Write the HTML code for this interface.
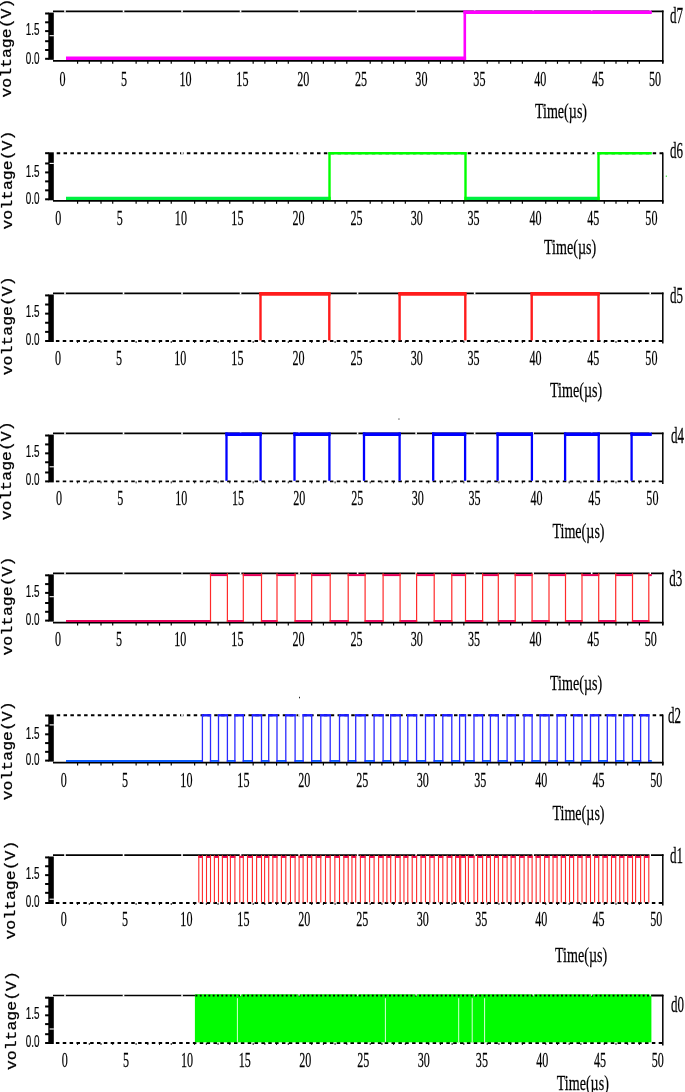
<!DOCTYPE html>
<html lang="en"><head><meta charset="utf-8"><title>Counter output waveforms d7 to d0</title>
<style>
html,body{margin:0;padding:0;background:#fff;}
body{width:685px;height:1092px;overflow:hidden;}
svg{display:block;}
text.s{font-family:"Liberation Serif","DejaVu Serif",serif;fill:#000;stroke:#000;stroke-width:0.25px;}
text.a{font-family:"Liberation Sans","DejaVu Sans",sans-serif;fill:#000;stroke:#000;stroke-width:0.2px;}
text.m{font-family:"Liberation Mono","DejaVu Sans Mono",monospace;fill:#000;stroke:#000;stroke-width:0.25px;}
</style></head>
<body>
<svg width="685" height="1092" viewBox="0 0 685 1092">
<rect width="685" height="1092" fill="#fff"/>
<line x1="53.00" y1="11.30" x2="663.50" y2="11.30" stroke="#000" stroke-width="1.7" />
<rect x="64.20" y="10.10" width="1.60" height="2.40" fill="#fff"/>
<rect x="122.72" y="10.10" width="1.60" height="2.40" fill="#fff"/>
<rect x="181.24" y="10.10" width="1.60" height="2.40" fill="#fff"/>
<rect x="239.76" y="10.10" width="1.60" height="2.40" fill="#fff"/>
<rect x="298.28" y="10.10" width="1.60" height="2.40" fill="#fff"/>
<rect x="356.80" y="10.10" width="1.60" height="2.40" fill="#fff"/>
<rect x="415.32" y="10.10" width="1.60" height="2.40" fill="#fff"/>
<rect x="473.84" y="10.10" width="1.60" height="2.40" fill="#fff"/>
<rect x="532.36" y="10.10" width="1.60" height="2.40" fill="#fff"/>
<rect x="590.88" y="10.10" width="1.60" height="2.40" fill="#fff"/>
<rect x="649.40" y="10.10" width="1.60" height="2.40" fill="#fff"/>
<line x1="53.00" y1="60.90" x2="663.50" y2="60.90" stroke="#000" stroke-width="1.7" />
<line x1="77.60" y1="60.90" x2="77.60" y2="63.80" stroke="#000" stroke-width="1.15" />
<line x1="89.31" y1="60.90" x2="89.31" y2="63.80" stroke="#000" stroke-width="1.15" />
<line x1="101.01" y1="60.90" x2="101.01" y2="63.80" stroke="#000" stroke-width="1.15" />
<line x1="112.72" y1="60.90" x2="112.72" y2="63.80" stroke="#000" stroke-width="1.15" />
<line x1="136.12" y1="60.90" x2="136.12" y2="63.80" stroke="#000" stroke-width="1.15" />
<line x1="147.83" y1="60.90" x2="147.83" y2="63.80" stroke="#000" stroke-width="1.15" />
<line x1="159.53" y1="60.90" x2="159.53" y2="63.80" stroke="#000" stroke-width="1.15" />
<line x1="171.24" y1="60.90" x2="171.24" y2="63.80" stroke="#000" stroke-width="1.15" />
<line x1="194.64" y1="60.90" x2="194.64" y2="63.80" stroke="#000" stroke-width="1.15" />
<line x1="206.35" y1="60.90" x2="206.35" y2="63.80" stroke="#000" stroke-width="1.15" />
<line x1="218.05" y1="60.90" x2="218.05" y2="63.80" stroke="#000" stroke-width="1.15" />
<line x1="229.76" y1="60.90" x2="229.76" y2="63.80" stroke="#000" stroke-width="1.15" />
<line x1="253.16" y1="60.90" x2="253.16" y2="63.80" stroke="#000" stroke-width="1.15" />
<line x1="264.87" y1="60.90" x2="264.87" y2="63.80" stroke="#000" stroke-width="1.15" />
<line x1="276.57" y1="60.90" x2="276.57" y2="63.80" stroke="#000" stroke-width="1.15" />
<line x1="288.28" y1="60.90" x2="288.28" y2="63.80" stroke="#000" stroke-width="1.15" />
<line x1="311.68" y1="60.90" x2="311.68" y2="63.80" stroke="#000" stroke-width="1.15" />
<line x1="323.39" y1="60.90" x2="323.39" y2="63.80" stroke="#000" stroke-width="1.15" />
<line x1="335.09" y1="60.90" x2="335.09" y2="63.80" stroke="#000" stroke-width="1.15" />
<line x1="346.80" y1="60.90" x2="346.80" y2="63.80" stroke="#000" stroke-width="1.15" />
<line x1="370.20" y1="60.90" x2="370.20" y2="63.80" stroke="#000" stroke-width="1.15" />
<line x1="381.91" y1="60.90" x2="381.91" y2="63.80" stroke="#000" stroke-width="1.15" />
<line x1="393.61" y1="60.90" x2="393.61" y2="63.80" stroke="#000" stroke-width="1.15" />
<line x1="405.32" y1="60.90" x2="405.32" y2="63.80" stroke="#000" stroke-width="1.15" />
<line x1="428.72" y1="60.90" x2="428.72" y2="63.80" stroke="#000" stroke-width="1.15" />
<line x1="440.43" y1="60.90" x2="440.43" y2="63.80" stroke="#000" stroke-width="1.15" />
<line x1="452.13" y1="60.90" x2="452.13" y2="63.80" stroke="#000" stroke-width="1.15" />
<line x1="463.84" y1="60.90" x2="463.84" y2="63.80" stroke="#000" stroke-width="1.15" />
<line x1="487.24" y1="60.90" x2="487.24" y2="63.80" stroke="#000" stroke-width="1.15" />
<line x1="498.95" y1="60.90" x2="498.95" y2="63.80" stroke="#000" stroke-width="1.15" />
<line x1="510.65" y1="60.90" x2="510.65" y2="63.80" stroke="#000" stroke-width="1.15" />
<line x1="522.36" y1="60.90" x2="522.36" y2="63.80" stroke="#000" stroke-width="1.15" />
<line x1="545.76" y1="60.90" x2="545.76" y2="63.80" stroke="#000" stroke-width="1.15" />
<line x1="557.47" y1="60.90" x2="557.47" y2="63.80" stroke="#000" stroke-width="1.15" />
<line x1="569.17" y1="60.90" x2="569.17" y2="63.80" stroke="#000" stroke-width="1.15" />
<line x1="580.88" y1="60.90" x2="580.88" y2="63.80" stroke="#000" stroke-width="1.15" />
<line x1="604.28" y1="60.90" x2="604.28" y2="63.80" stroke="#000" stroke-width="1.15" />
<line x1="615.99" y1="60.90" x2="615.99" y2="63.80" stroke="#000" stroke-width="1.15" />
<line x1="627.69" y1="60.90" x2="627.69" y2="63.80" stroke="#000" stroke-width="1.15" />
<line x1="639.40" y1="60.90" x2="639.40" y2="63.80" stroke="#000" stroke-width="1.15" />
<line x1="662.80" y1="60.90" x2="662.80" y2="63.80" stroke="#000" stroke-width="1.15" />
<line x1="662.80" y1="10.50" x2="662.80" y2="63.50" stroke="#000" stroke-width="1.5" />
<rect x="48.30" y="12.60" width="5.50" height="47.20" fill="#000"/>
<line x1="45.10" y1="13.50" x2="49.00" y2="13.50" stroke="#000" stroke-width="2.0" />
<line x1="45.10" y1="22.30" x2="49.00" y2="22.30" stroke="#000" stroke-width="2.0" />
<line x1="45.10" y1="31.10" x2="49.00" y2="31.10" stroke="#000" stroke-width="2.0" />
<line x1="45.10" y1="41.20" x2="49.00" y2="41.20" stroke="#000" stroke-width="2.0" />
<line x1="45.10" y1="50.00" x2="49.00" y2="50.00" stroke="#000" stroke-width="2.0" />
<line x1="45.10" y1="58.80" x2="49.00" y2="58.80" stroke="#000" stroke-width="2.0" />
<rect x="49.60" y="35.15" width="4.30" height="1.10" fill="#fff"/>
<text class="a" transform="translate(39.50,35.30) scale(0.59,1)" font-size="16.8" text-anchor="end">1.5</text>
<text class="a" transform="translate(39.50,63.60) scale(0.59,1)" font-size="16.8" text-anchor="end">0.0</text>
<text class="s" transform="translate(62.60,86.30) scale(0.55,1)" font-size="22.0" text-anchor="middle">0</text>
<text class="s" transform="translate(124.00,86.30) scale(0.55,1)" font-size="22.0" text-anchor="middle">5</text>
<text class="s" transform="translate(185.50,86.30) scale(0.55,1)" font-size="22.0" text-anchor="middle">10</text>
<text class="s" transform="translate(242.40,86.30) scale(0.55,1)" font-size="22.0" text-anchor="middle">15</text>
<text class="s" transform="translate(303.20,86.30) scale(0.55,1)" font-size="22.0" text-anchor="middle">20</text>
<text class="s" transform="translate(361.00,86.30) scale(0.55,1)" font-size="22.0" text-anchor="middle">25</text>
<text class="s" transform="translate(421.40,86.30) scale(0.55,1)" font-size="22.0" text-anchor="middle">30</text>
<text class="s" transform="translate(479.40,86.30) scale(0.55,1)" font-size="22.0" text-anchor="middle">35</text>
<text class="s" transform="translate(540.20,86.30) scale(0.55,1)" font-size="22.0" text-anchor="middle">40</text>
<text class="s" transform="translate(598.00,86.30) scale(0.55,1)" font-size="22.0" text-anchor="middle">45</text>
<text class="s" transform="translate(655.00,86.30) scale(0.55,1)" font-size="22.0" text-anchor="middle">50</text>
<text class="s" transform="translate(534.90,118.40) scale(0.64,1)" font-size="22.0" text-anchor="start">Time(µs)</text>
<text class="s" transform="translate(670.00,23.00) scale(0.56,1)" font-size="23.2" text-anchor="start">d7</text>
<text class="m" transform="translate(11.00,97.60) rotate(-90) scale(1.146,1)" font-size="14.4">voltage(V)</text>
<line x1="66.00" y1="58.30" x2="466.10" y2="58.30" stroke="#ff00ff" stroke-width="3.6" />
<line x1="463.50" y1="12.20" x2="651.80" y2="12.20" stroke="#ff00ff" stroke-width="3.6" />
<line x1="464.80" y1="10.40" x2="464.80" y2="60.10" stroke="#ff00ff" stroke-width="2.6" />
<line x1="56.70" y1="153.20" x2="663.50" y2="153.20" stroke="#000" stroke-width="1.9" stroke-dasharray="3.5 3.35"/>
<rect x="122.72" y="152.00" width="1.60" height="2.40" fill="#fff"/>
<rect x="181.24" y="152.00" width="1.60" height="2.40" fill="#fff"/>
<rect x="239.76" y="152.00" width="1.60" height="2.40" fill="#fff"/>
<rect x="298.28" y="152.00" width="1.60" height="2.40" fill="#fff"/>
<rect x="356.80" y="152.00" width="1.60" height="2.40" fill="#fff"/>
<rect x="415.32" y="152.00" width="1.60" height="2.40" fill="#fff"/>
<rect x="473.84" y="152.00" width="1.60" height="2.40" fill="#fff"/>
<rect x="532.36" y="152.00" width="1.60" height="2.40" fill="#fff"/>
<rect x="590.88" y="152.00" width="1.60" height="2.40" fill="#fff"/>
<rect x="649.40" y="152.00" width="1.60" height="2.40" fill="#fff"/>
<line x1="53.00" y1="200.90" x2="663.50" y2="200.90" stroke="#000" stroke-width="1.7" />
<line x1="77.60" y1="200.90" x2="77.60" y2="203.80" stroke="#000" stroke-width="1.15" />
<line x1="89.31" y1="200.90" x2="89.31" y2="203.80" stroke="#000" stroke-width="1.15" />
<line x1="101.01" y1="200.90" x2="101.01" y2="203.80" stroke="#000" stroke-width="1.15" />
<line x1="112.72" y1="200.90" x2="112.72" y2="203.80" stroke="#000" stroke-width="1.15" />
<line x1="136.12" y1="200.90" x2="136.12" y2="203.80" stroke="#000" stroke-width="1.15" />
<line x1="147.83" y1="200.90" x2="147.83" y2="203.80" stroke="#000" stroke-width="1.15" />
<line x1="159.53" y1="200.90" x2="159.53" y2="203.80" stroke="#000" stroke-width="1.15" />
<line x1="171.24" y1="200.90" x2="171.24" y2="203.80" stroke="#000" stroke-width="1.15" />
<line x1="194.64" y1="200.90" x2="194.64" y2="203.80" stroke="#000" stroke-width="1.15" />
<line x1="206.35" y1="200.90" x2="206.35" y2="203.80" stroke="#000" stroke-width="1.15" />
<line x1="218.05" y1="200.90" x2="218.05" y2="203.80" stroke="#000" stroke-width="1.15" />
<line x1="229.76" y1="200.90" x2="229.76" y2="203.80" stroke="#000" stroke-width="1.15" />
<line x1="253.16" y1="200.90" x2="253.16" y2="203.80" stroke="#000" stroke-width="1.15" />
<line x1="264.87" y1="200.90" x2="264.87" y2="203.80" stroke="#000" stroke-width="1.15" />
<line x1="276.57" y1="200.90" x2="276.57" y2="203.80" stroke="#000" stroke-width="1.15" />
<line x1="288.28" y1="200.90" x2="288.28" y2="203.80" stroke="#000" stroke-width="1.15" />
<line x1="311.68" y1="200.90" x2="311.68" y2="203.80" stroke="#000" stroke-width="1.15" />
<line x1="323.39" y1="200.90" x2="323.39" y2="203.80" stroke="#000" stroke-width="1.15" />
<line x1="335.09" y1="200.90" x2="335.09" y2="203.80" stroke="#000" stroke-width="1.15" />
<line x1="346.80" y1="200.90" x2="346.80" y2="203.80" stroke="#000" stroke-width="1.15" />
<line x1="370.20" y1="200.90" x2="370.20" y2="203.80" stroke="#000" stroke-width="1.15" />
<line x1="381.91" y1="200.90" x2="381.91" y2="203.80" stroke="#000" stroke-width="1.15" />
<line x1="393.61" y1="200.90" x2="393.61" y2="203.80" stroke="#000" stroke-width="1.15" />
<line x1="405.32" y1="200.90" x2="405.32" y2="203.80" stroke="#000" stroke-width="1.15" />
<line x1="428.72" y1="200.90" x2="428.72" y2="203.80" stroke="#000" stroke-width="1.15" />
<line x1="440.43" y1="200.90" x2="440.43" y2="203.80" stroke="#000" stroke-width="1.15" />
<line x1="452.13" y1="200.90" x2="452.13" y2="203.80" stroke="#000" stroke-width="1.15" />
<line x1="463.84" y1="200.90" x2="463.84" y2="203.80" stroke="#000" stroke-width="1.15" />
<line x1="487.24" y1="200.90" x2="487.24" y2="203.80" stroke="#000" stroke-width="1.15" />
<line x1="498.95" y1="200.90" x2="498.95" y2="203.80" stroke="#000" stroke-width="1.15" />
<line x1="510.65" y1="200.90" x2="510.65" y2="203.80" stroke="#000" stroke-width="1.15" />
<line x1="522.36" y1="200.90" x2="522.36" y2="203.80" stroke="#000" stroke-width="1.15" />
<line x1="545.76" y1="200.90" x2="545.76" y2="203.80" stroke="#000" stroke-width="1.15" />
<line x1="557.47" y1="200.90" x2="557.47" y2="203.80" stroke="#000" stroke-width="1.15" />
<line x1="569.17" y1="200.90" x2="569.17" y2="203.80" stroke="#000" stroke-width="1.15" />
<line x1="580.88" y1="200.90" x2="580.88" y2="203.80" stroke="#000" stroke-width="1.15" />
<line x1="604.28" y1="200.90" x2="604.28" y2="203.80" stroke="#000" stroke-width="1.15" />
<line x1="615.99" y1="200.90" x2="615.99" y2="203.80" stroke="#000" stroke-width="1.15" />
<line x1="627.69" y1="200.90" x2="627.69" y2="203.80" stroke="#000" stroke-width="1.15" />
<line x1="639.40" y1="200.90" x2="639.40" y2="203.80" stroke="#000" stroke-width="1.15" />
<line x1="662.80" y1="200.90" x2="662.80" y2="203.80" stroke="#000" stroke-width="1.15" />
<line x1="662.80" y1="152.40" x2="662.80" y2="203.50" stroke="#000" stroke-width="1.5" />
<rect x="48.30" y="152.30" width="5.50" height="48.00" fill="#000"/>
<line x1="45.10" y1="153.20" x2="49.00" y2="153.20" stroke="#000" stroke-width="2.0" />
<line x1="45.10" y1="163.46" x2="49.00" y2="163.46" stroke="#000" stroke-width="2.0" />
<line x1="45.10" y1="172.42" x2="49.00" y2="172.42" stroke="#000" stroke-width="2.0" />
<line x1="45.10" y1="181.38" x2="49.00" y2="181.38" stroke="#000" stroke-width="2.0" />
<line x1="45.10" y1="190.34" x2="49.00" y2="190.34" stroke="#000" stroke-width="2.0" />
<line x1="45.10" y1="199.30" x2="49.00" y2="199.30" stroke="#000" stroke-width="2.0" />
<rect x="49.60" y="162.85" width="4.30" height="1.10" fill="#fff"/>
<text class="a" transform="translate(39.50,177.00) scale(0.59,1)" font-size="16.8" text-anchor="end">1.5</text>
<text class="a" transform="translate(39.50,203.80) scale(0.59,1)" font-size="16.8" text-anchor="end">0.0</text>
<text class="s" transform="translate(58.30,225.00) scale(0.55,1)" font-size="22.0" text-anchor="middle">0</text>
<text class="s" transform="translate(119.70,225.00) scale(0.55,1)" font-size="22.0" text-anchor="middle">5</text>
<text class="s" transform="translate(180.90,225.00) scale(0.55,1)" font-size="22.0" text-anchor="middle">10</text>
<text class="s" transform="translate(237.40,225.00) scale(0.55,1)" font-size="22.0" text-anchor="middle">15</text>
<text class="s" transform="translate(298.50,225.00) scale(0.55,1)" font-size="22.0" text-anchor="middle">20</text>
<text class="s" transform="translate(356.60,225.00) scale(0.55,1)" font-size="22.0" text-anchor="middle">25</text>
<text class="s" transform="translate(416.70,225.00) scale(0.55,1)" font-size="22.0" text-anchor="middle">30</text>
<text class="s" transform="translate(473.50,225.00) scale(0.55,1)" font-size="22.0" text-anchor="middle">35</text>
<text class="s" transform="translate(535.60,225.00) scale(0.55,1)" font-size="22.0" text-anchor="middle">40</text>
<text class="s" transform="translate(593.30,225.00) scale(0.55,1)" font-size="22.0" text-anchor="middle">45</text>
<text class="s" transform="translate(651.40,225.00) scale(0.55,1)" font-size="22.0" text-anchor="middle">50</text>
<text class="s" transform="translate(544.00,254.20) scale(0.64,1)" font-size="22.0" text-anchor="start">Time(µs)</text>
<text class="s" transform="translate(670.10,158.00) scale(0.56,1)" font-size="23.2" text-anchor="start">d6</text>
<text class="m" transform="translate(11.90,229.60) rotate(-90) scale(1.146,1)" font-size="14.4">voltage(V)</text>
<line x1="66.00" y1="198.40" x2="330.70" y2="198.40" stroke="#00f040" stroke-width="3.4" />
<line x1="328.30" y1="153.25" x2="466.70" y2="153.25" stroke="#00ff00" stroke-width="2.5" />
<line x1="464.30" y1="198.40" x2="599.70" y2="198.40" stroke="#00f040" stroke-width="3.4" />
<line x1="597.30" y1="153.25" x2="651.80" y2="153.25" stroke="#00ff00" stroke-width="2.5" />
<line x1="329.50" y1="152.30" x2="329.50" y2="200.10" stroke="#00ff00" stroke-width="2.4" />
<line x1="465.50" y1="152.30" x2="465.50" y2="200.10" stroke="#00ff00" stroke-width="2.4" />
<line x1="598.50" y1="152.30" x2="598.50" y2="200.10" stroke="#00ff00" stroke-width="2.4" />
<rect x="665.80" y="175.60" width="1.00" height="1.20" fill="#00e000"/>
<line x1="53.00" y1="293.30" x2="663.50" y2="293.30" stroke="#000" stroke-width="1.7" />
<rect x="64.20" y="292.10" width="1.60" height="2.40" fill="#fff"/>
<rect x="122.72" y="292.10" width="1.60" height="2.40" fill="#fff"/>
<rect x="181.24" y="292.10" width="1.60" height="2.40" fill="#fff"/>
<rect x="239.76" y="292.10" width="1.60" height="2.40" fill="#fff"/>
<rect x="298.28" y="292.10" width="1.60" height="2.40" fill="#fff"/>
<rect x="356.80" y="292.10" width="1.60" height="2.40" fill="#fff"/>
<rect x="415.32" y="292.10" width="1.60" height="2.40" fill="#fff"/>
<rect x="473.84" y="292.10" width="1.60" height="2.40" fill="#fff"/>
<rect x="532.36" y="292.10" width="1.60" height="2.40" fill="#fff"/>
<rect x="590.88" y="292.10" width="1.60" height="2.40" fill="#fff"/>
<rect x="649.40" y="292.10" width="1.60" height="2.40" fill="#fff"/>
<line x1="55.90" y1="341.00" x2="663.50" y2="341.00" stroke="#000" stroke-width="1.8" stroke-dasharray="3.5 3.35"/>
<line x1="77.60" y1="341.00" x2="77.60" y2="343.00" stroke="#000" stroke-width="0.9" />
<line x1="89.31" y1="341.00" x2="89.31" y2="343.00" stroke="#000" stroke-width="0.9" />
<line x1="101.01" y1="341.00" x2="101.01" y2="343.00" stroke="#000" stroke-width="0.9" />
<line x1="112.72" y1="341.00" x2="112.72" y2="343.00" stroke="#000" stroke-width="0.9" />
<line x1="136.12" y1="341.00" x2="136.12" y2="343.00" stroke="#000" stroke-width="0.9" />
<line x1="147.83" y1="341.00" x2="147.83" y2="343.00" stroke="#000" stroke-width="0.9" />
<line x1="159.53" y1="341.00" x2="159.53" y2="343.00" stroke="#000" stroke-width="0.9" />
<line x1="171.24" y1="341.00" x2="171.24" y2="343.00" stroke="#000" stroke-width="0.9" />
<line x1="194.64" y1="341.00" x2="194.64" y2="343.00" stroke="#000" stroke-width="0.9" />
<line x1="206.35" y1="341.00" x2="206.35" y2="343.00" stroke="#000" stroke-width="0.9" />
<line x1="218.05" y1="341.00" x2="218.05" y2="343.00" stroke="#000" stroke-width="0.9" />
<line x1="229.76" y1="341.00" x2="229.76" y2="343.00" stroke="#000" stroke-width="0.9" />
<line x1="253.16" y1="341.00" x2="253.16" y2="343.00" stroke="#000" stroke-width="0.9" />
<line x1="264.87" y1="341.00" x2="264.87" y2="343.00" stroke="#000" stroke-width="0.9" />
<line x1="276.57" y1="341.00" x2="276.57" y2="343.00" stroke="#000" stroke-width="0.9" />
<line x1="288.28" y1="341.00" x2="288.28" y2="343.00" stroke="#000" stroke-width="0.9" />
<line x1="311.68" y1="341.00" x2="311.68" y2="343.00" stroke="#000" stroke-width="0.9" />
<line x1="323.39" y1="341.00" x2="323.39" y2="343.00" stroke="#000" stroke-width="0.9" />
<line x1="335.09" y1="341.00" x2="335.09" y2="343.00" stroke="#000" stroke-width="0.9" />
<line x1="346.80" y1="341.00" x2="346.80" y2="343.00" stroke="#000" stroke-width="0.9" />
<line x1="370.20" y1="341.00" x2="370.20" y2="343.00" stroke="#000" stroke-width="0.9" />
<line x1="381.91" y1="341.00" x2="381.91" y2="343.00" stroke="#000" stroke-width="0.9" />
<line x1="393.61" y1="341.00" x2="393.61" y2="343.00" stroke="#000" stroke-width="0.9" />
<line x1="405.32" y1="341.00" x2="405.32" y2="343.00" stroke="#000" stroke-width="0.9" />
<line x1="428.72" y1="341.00" x2="428.72" y2="343.00" stroke="#000" stroke-width="0.9" />
<line x1="440.43" y1="341.00" x2="440.43" y2="343.00" stroke="#000" stroke-width="0.9" />
<line x1="452.13" y1="341.00" x2="452.13" y2="343.00" stroke="#000" stroke-width="0.9" />
<line x1="463.84" y1="341.00" x2="463.84" y2="343.00" stroke="#000" stroke-width="0.9" />
<line x1="487.24" y1="341.00" x2="487.24" y2="343.00" stroke="#000" stroke-width="0.9" />
<line x1="498.95" y1="341.00" x2="498.95" y2="343.00" stroke="#000" stroke-width="0.9" />
<line x1="510.65" y1="341.00" x2="510.65" y2="343.00" stroke="#000" stroke-width="0.9" />
<line x1="522.36" y1="341.00" x2="522.36" y2="343.00" stroke="#000" stroke-width="0.9" />
<line x1="545.76" y1="341.00" x2="545.76" y2="343.00" stroke="#000" stroke-width="0.9" />
<line x1="557.47" y1="341.00" x2="557.47" y2="343.00" stroke="#000" stroke-width="0.9" />
<line x1="569.17" y1="341.00" x2="569.17" y2="343.00" stroke="#000" stroke-width="0.9" />
<line x1="580.88" y1="341.00" x2="580.88" y2="343.00" stroke="#000" stroke-width="0.9" />
<line x1="604.28" y1="341.00" x2="604.28" y2="343.00" stroke="#000" stroke-width="0.9" />
<line x1="615.99" y1="341.00" x2="615.99" y2="343.00" stroke="#000" stroke-width="0.9" />
<line x1="627.69" y1="341.00" x2="627.69" y2="343.00" stroke="#000" stroke-width="0.9" />
<line x1="639.40" y1="341.00" x2="639.40" y2="343.00" stroke="#000" stroke-width="0.9" />
<line x1="662.80" y1="292.50" x2="662.80" y2="343.60" stroke="#000" stroke-width="1.5" />
<rect x="48.30" y="294.50" width="5.50" height="47.50" fill="#000"/>
<line x1="45.10" y1="295.40" x2="49.00" y2="295.40" stroke="#000" stroke-width="2.0" />
<line x1="45.10" y1="304.52" x2="49.00" y2="304.52" stroke="#000" stroke-width="2.0" />
<line x1="45.10" y1="313.64" x2="49.00" y2="313.64" stroke="#000" stroke-width="2.0" />
<line x1="45.10" y1="322.76" x2="49.00" y2="322.76" stroke="#000" stroke-width="2.0" />
<line x1="45.10" y1="331.88" x2="49.00" y2="331.88" stroke="#000" stroke-width="2.0" />
<line x1="45.10" y1="341.00" x2="49.00" y2="341.00" stroke="#000" stroke-width="2.0" />
<text class="a" transform="translate(39.50,317.20) scale(0.59,1)" font-size="16.8" text-anchor="end">1.5</text>
<text class="a" transform="translate(39.50,345.00) scale(0.59,1)" font-size="16.8" text-anchor="end">0.0</text>
<text class="s" transform="translate(58.10,364.90) scale(0.55,1)" font-size="22.0" text-anchor="middle">0</text>
<text class="s" transform="translate(118.90,364.90) scale(0.55,1)" font-size="22.0" text-anchor="middle">5</text>
<text class="s" transform="translate(180.30,364.90) scale(0.55,1)" font-size="22.0" text-anchor="middle">10</text>
<text class="s" transform="translate(237.40,364.90) scale(0.55,1)" font-size="22.0" text-anchor="middle">15</text>
<text class="s" transform="translate(298.50,364.90) scale(0.55,1)" font-size="22.0" text-anchor="middle">20</text>
<text class="s" transform="translate(356.60,364.90) scale(0.55,1)" font-size="22.0" text-anchor="middle">25</text>
<text class="s" transform="translate(416.70,364.90) scale(0.55,1)" font-size="22.0" text-anchor="middle">30</text>
<text class="s" transform="translate(473.50,364.90) scale(0.55,1)" font-size="22.0" text-anchor="middle">35</text>
<text class="s" transform="translate(535.60,364.90) scale(0.55,1)" font-size="22.0" text-anchor="middle">40</text>
<text class="s" transform="translate(593.30,364.90) scale(0.55,1)" font-size="22.0" text-anchor="middle">45</text>
<text class="s" transform="translate(651.40,364.90) scale(0.55,1)" font-size="22.0" text-anchor="middle">50</text>
<text class="s" transform="translate(550.00,396.60) scale(0.64,1)" font-size="22.0" text-anchor="start">Time(µs)</text>
<text class="s" transform="translate(670.10,303.10) scale(0.56,1)" font-size="23.2" text-anchor="start">d5</text>
<text class="m" transform="translate(11.90,375.30) rotate(-90) scale(1.146,1)" font-size="14.4">voltage(V)</text>
<line x1="259.30" y1="293.95" x2="330.50" y2="293.95" stroke="#ff1c1c" stroke-width="3.8" />
<line x1="398.40" y1="293.95" x2="466.50" y2="293.95" stroke="#ff1c1c" stroke-width="3.8" />
<line x1="530.50" y1="293.95" x2="599.70" y2="293.95" stroke="#ff1c1c" stroke-width="3.8" />
<line x1="260.50" y1="292.40" x2="260.50" y2="340.40" stroke="#ff1c1c" stroke-width="2.4" />
<line x1="329.30" y1="292.40" x2="329.30" y2="340.40" stroke="#ff1c1c" stroke-width="2.4" />
<line x1="399.60" y1="292.40" x2="399.60" y2="340.40" stroke="#ff1c1c" stroke-width="2.4" />
<line x1="465.30" y1="292.40" x2="465.30" y2="340.40" stroke="#ff1c1c" stroke-width="2.4" />
<line x1="531.70" y1="292.40" x2="531.70" y2="340.40" stroke="#ff1c1c" stroke-width="2.4" />
<line x1="598.50" y1="292.40" x2="598.50" y2="340.40" stroke="#ff1c1c" stroke-width="2.4" />
<line x1="53.00" y1="433.35" x2="663.50" y2="433.35" stroke="#000" stroke-width="1.7" />
<rect x="64.20" y="432.15" width="1.60" height="2.40" fill="#fff"/>
<rect x="122.72" y="432.15" width="1.60" height="2.40" fill="#fff"/>
<rect x="181.24" y="432.15" width="1.60" height="2.40" fill="#fff"/>
<rect x="239.76" y="432.15" width="1.60" height="2.40" fill="#fff"/>
<rect x="298.28" y="432.15" width="1.60" height="2.40" fill="#fff"/>
<rect x="356.80" y="432.15" width="1.60" height="2.40" fill="#fff"/>
<rect x="415.32" y="432.15" width="1.60" height="2.40" fill="#fff"/>
<rect x="473.84" y="432.15" width="1.60" height="2.40" fill="#fff"/>
<rect x="532.36" y="432.15" width="1.60" height="2.40" fill="#fff"/>
<rect x="590.88" y="432.15" width="1.60" height="2.40" fill="#fff"/>
<rect x="649.40" y="432.15" width="1.60" height="2.40" fill="#fff"/>
<line x1="55.90" y1="481.40" x2="663.50" y2="481.40" stroke="#000" stroke-width="1.8" stroke-dasharray="3.5 3.35"/>
<line x1="77.60" y1="481.40" x2="77.60" y2="483.40" stroke="#000" stroke-width="0.9" />
<line x1="89.31" y1="481.40" x2="89.31" y2="483.40" stroke="#000" stroke-width="0.9" />
<line x1="101.01" y1="481.40" x2="101.01" y2="483.40" stroke="#000" stroke-width="0.9" />
<line x1="112.72" y1="481.40" x2="112.72" y2="483.40" stroke="#000" stroke-width="0.9" />
<line x1="136.12" y1="481.40" x2="136.12" y2="483.40" stroke="#000" stroke-width="0.9" />
<line x1="147.83" y1="481.40" x2="147.83" y2="483.40" stroke="#000" stroke-width="0.9" />
<line x1="159.53" y1="481.40" x2="159.53" y2="483.40" stroke="#000" stroke-width="0.9" />
<line x1="171.24" y1="481.40" x2="171.24" y2="483.40" stroke="#000" stroke-width="0.9" />
<line x1="194.64" y1="481.40" x2="194.64" y2="483.40" stroke="#000" stroke-width="0.9" />
<line x1="206.35" y1="481.40" x2="206.35" y2="483.40" stroke="#000" stroke-width="0.9" />
<line x1="218.05" y1="481.40" x2="218.05" y2="483.40" stroke="#000" stroke-width="0.9" />
<line x1="229.76" y1="481.40" x2="229.76" y2="483.40" stroke="#000" stroke-width="0.9" />
<line x1="253.16" y1="481.40" x2="253.16" y2="483.40" stroke="#000" stroke-width="0.9" />
<line x1="264.87" y1="481.40" x2="264.87" y2="483.40" stroke="#000" stroke-width="0.9" />
<line x1="276.57" y1="481.40" x2="276.57" y2="483.40" stroke="#000" stroke-width="0.9" />
<line x1="288.28" y1="481.40" x2="288.28" y2="483.40" stroke="#000" stroke-width="0.9" />
<line x1="311.68" y1="481.40" x2="311.68" y2="483.40" stroke="#000" stroke-width="0.9" />
<line x1="323.39" y1="481.40" x2="323.39" y2="483.40" stroke="#000" stroke-width="0.9" />
<line x1="335.09" y1="481.40" x2="335.09" y2="483.40" stroke="#000" stroke-width="0.9" />
<line x1="346.80" y1="481.40" x2="346.80" y2="483.40" stroke="#000" stroke-width="0.9" />
<line x1="370.20" y1="481.40" x2="370.20" y2="483.40" stroke="#000" stroke-width="0.9" />
<line x1="381.91" y1="481.40" x2="381.91" y2="483.40" stroke="#000" stroke-width="0.9" />
<line x1="393.61" y1="481.40" x2="393.61" y2="483.40" stroke="#000" stroke-width="0.9" />
<line x1="405.32" y1="481.40" x2="405.32" y2="483.40" stroke="#000" stroke-width="0.9" />
<line x1="428.72" y1="481.40" x2="428.72" y2="483.40" stroke="#000" stroke-width="0.9" />
<line x1="440.43" y1="481.40" x2="440.43" y2="483.40" stroke="#000" stroke-width="0.9" />
<line x1="452.13" y1="481.40" x2="452.13" y2="483.40" stroke="#000" stroke-width="0.9" />
<line x1="463.84" y1="481.40" x2="463.84" y2="483.40" stroke="#000" stroke-width="0.9" />
<line x1="487.24" y1="481.40" x2="487.24" y2="483.40" stroke="#000" stroke-width="0.9" />
<line x1="498.95" y1="481.40" x2="498.95" y2="483.40" stroke="#000" stroke-width="0.9" />
<line x1="510.65" y1="481.40" x2="510.65" y2="483.40" stroke="#000" stroke-width="0.9" />
<line x1="522.36" y1="481.40" x2="522.36" y2="483.40" stroke="#000" stroke-width="0.9" />
<line x1="545.76" y1="481.40" x2="545.76" y2="483.40" stroke="#000" stroke-width="0.9" />
<line x1="557.47" y1="481.40" x2="557.47" y2="483.40" stroke="#000" stroke-width="0.9" />
<line x1="569.17" y1="481.40" x2="569.17" y2="483.40" stroke="#000" stroke-width="0.9" />
<line x1="580.88" y1="481.40" x2="580.88" y2="483.40" stroke="#000" stroke-width="0.9" />
<line x1="604.28" y1="481.40" x2="604.28" y2="483.40" stroke="#000" stroke-width="0.9" />
<line x1="615.99" y1="481.40" x2="615.99" y2="483.40" stroke="#000" stroke-width="0.9" />
<line x1="627.69" y1="481.40" x2="627.69" y2="483.40" stroke="#000" stroke-width="0.9" />
<line x1="639.40" y1="481.40" x2="639.40" y2="483.40" stroke="#000" stroke-width="0.9" />
<line x1="662.80" y1="432.55" x2="662.80" y2="484.00" stroke="#000" stroke-width="1.5" />
<rect x="48.30" y="434.60" width="5.50" height="47.80" fill="#000"/>
<line x1="45.10" y1="435.50" x2="49.00" y2="435.50" stroke="#000" stroke-width="2.0" />
<line x1="45.10" y1="444.42" x2="49.00" y2="444.42" stroke="#000" stroke-width="2.0" />
<line x1="45.10" y1="453.34" x2="49.00" y2="453.34" stroke="#000" stroke-width="2.0" />
<line x1="45.10" y1="462.26" x2="49.00" y2="462.26" stroke="#000" stroke-width="2.0" />
<line x1="45.10" y1="472.48" x2="49.00" y2="472.48" stroke="#000" stroke-width="2.0" />
<line x1="45.10" y1="481.40" x2="49.00" y2="481.40" stroke="#000" stroke-width="2.0" />
<rect x="49.60" y="466.25" width="4.30" height="1.10" fill="#fff"/>
<text class="a" transform="translate(39.50,457.30) scale(0.59,1)" font-size="16.8" text-anchor="end">1.5</text>
<text class="a" transform="translate(39.50,485.00) scale(0.59,1)" font-size="16.8" text-anchor="end">0.0</text>
<text class="s" transform="translate(58.90,505.00) scale(0.55,1)" font-size="22.0" text-anchor="middle">0</text>
<text class="s" transform="translate(120.20,505.00) scale(0.55,1)" font-size="22.0" text-anchor="middle">5</text>
<text class="s" transform="translate(181.30,505.00) scale(0.55,1)" font-size="22.0" text-anchor="middle">10</text>
<text class="s" transform="translate(238.10,505.00) scale(0.55,1)" font-size="22.0" text-anchor="middle">15</text>
<text class="s" transform="translate(299.20,505.00) scale(0.55,1)" font-size="22.0" text-anchor="middle">20</text>
<text class="s" transform="translate(357.30,505.00) scale(0.55,1)" font-size="22.0" text-anchor="middle">25</text>
<text class="s" transform="translate(417.70,505.00) scale(0.55,1)" font-size="22.0" text-anchor="middle">30</text>
<text class="s" transform="translate(474.50,505.00) scale(0.55,1)" font-size="22.0" text-anchor="middle">35</text>
<text class="s" transform="translate(536.60,505.00) scale(0.55,1)" font-size="22.0" text-anchor="middle">40</text>
<text class="s" transform="translate(594.40,505.00) scale(0.55,1)" font-size="22.0" text-anchor="middle">45</text>
<text class="s" transform="translate(652.40,505.00) scale(0.55,1)" font-size="22.0" text-anchor="middle">50</text>
<text class="s" transform="translate(552.40,537.60) scale(0.64,1)" font-size="22.0" text-anchor="start">Time(µs)</text>
<text class="s" transform="translate(671.10,443.10) scale(0.56,1)" font-size="23.2" text-anchor="start">d4</text>
<text class="m" transform="translate(11.20,520.30) rotate(-90) scale(1.146,1)" font-size="14.4">voltage(V)</text>
<line x1="225.35" y1="434.25" x2="261.75" y2="434.25" stroke="#0000ff" stroke-width="3.4" />
<line x1="293.35" y1="434.25" x2="330.55" y2="434.25" stroke="#0000ff" stroke-width="3.4" />
<line x1="362.85" y1="434.25" x2="400.75" y2="434.25" stroke="#0000ff" stroke-width="3.4" />
<line x1="432.05" y1="434.25" x2="466.25" y2="434.25" stroke="#0000ff" stroke-width="3.4" />
<line x1="496.45" y1="434.25" x2="533.05" y2="434.25" stroke="#0000ff" stroke-width="3.4" />
<line x1="563.95" y1="434.25" x2="599.85" y2="434.25" stroke="#0000ff" stroke-width="3.4" />
<line x1="630.45" y1="434.25" x2="651.80" y2="434.25" stroke="#0000ff" stroke-width="3.4" />
<line x1="226.50" y1="432.45" x2="226.50" y2="480.80" stroke="#0000ff" stroke-width="2.3" />
<line x1="260.60" y1="432.45" x2="260.60" y2="480.80" stroke="#0000ff" stroke-width="2.3" />
<line x1="294.50" y1="432.45" x2="294.50" y2="480.80" stroke="#0000ff" stroke-width="2.3" />
<line x1="329.40" y1="432.45" x2="329.40" y2="480.80" stroke="#0000ff" stroke-width="2.3" />
<line x1="364.00" y1="432.45" x2="364.00" y2="480.80" stroke="#0000ff" stroke-width="2.3" />
<line x1="399.60" y1="432.45" x2="399.60" y2="480.80" stroke="#0000ff" stroke-width="2.3" />
<line x1="433.20" y1="432.45" x2="433.20" y2="480.80" stroke="#0000ff" stroke-width="2.3" />
<line x1="465.10" y1="432.45" x2="465.10" y2="480.80" stroke="#0000ff" stroke-width="2.3" />
<line x1="497.60" y1="432.45" x2="497.60" y2="480.80" stroke="#0000ff" stroke-width="2.3" />
<line x1="531.90" y1="432.45" x2="531.90" y2="480.80" stroke="#0000ff" stroke-width="2.3" />
<line x1="565.10" y1="432.45" x2="565.10" y2="480.80" stroke="#0000ff" stroke-width="2.3" />
<line x1="598.70" y1="432.45" x2="598.70" y2="480.80" stroke="#0000ff" stroke-width="2.3" />
<line x1="631.60" y1="432.45" x2="631.60" y2="480.80" stroke="#0000ff" stroke-width="2.3" />
<rect x="398.30" y="418.40" width="1.30" height="1.30" fill="#666"/>
<rect x="299.00" y="696.80" width="1.00" height="1.50" fill="#222"/>
<line x1="53.00" y1="573.30" x2="663.50" y2="573.30" stroke="#000" stroke-width="1.7" />
<rect x="64.20" y="572.10" width="1.60" height="2.40" fill="#fff"/>
<rect x="122.72" y="572.10" width="1.60" height="2.40" fill="#fff"/>
<rect x="181.24" y="572.10" width="1.60" height="2.40" fill="#fff"/>
<rect x="239.76" y="572.10" width="1.60" height="2.40" fill="#fff"/>
<rect x="298.28" y="572.10" width="1.60" height="2.40" fill="#fff"/>
<rect x="356.80" y="572.10" width="1.60" height="2.40" fill="#fff"/>
<rect x="415.32" y="572.10" width="1.60" height="2.40" fill="#fff"/>
<rect x="473.84" y="572.10" width="1.60" height="2.40" fill="#fff"/>
<rect x="532.36" y="572.10" width="1.60" height="2.40" fill="#fff"/>
<rect x="590.88" y="572.10" width="1.60" height="2.40" fill="#fff"/>
<rect x="649.40" y="572.10" width="1.60" height="2.40" fill="#fff"/>
<line x1="53.00" y1="622.70" x2="663.50" y2="622.70" stroke="#000" stroke-width="1.7" />
<line x1="77.60" y1="622.70" x2="77.60" y2="625.60" stroke="#000" stroke-width="1.15" />
<line x1="89.31" y1="622.70" x2="89.31" y2="625.60" stroke="#000" stroke-width="1.15" />
<line x1="101.01" y1="622.70" x2="101.01" y2="625.60" stroke="#000" stroke-width="1.15" />
<line x1="112.72" y1="622.70" x2="112.72" y2="625.60" stroke="#000" stroke-width="1.15" />
<line x1="136.12" y1="622.70" x2="136.12" y2="625.60" stroke="#000" stroke-width="1.15" />
<line x1="147.83" y1="622.70" x2="147.83" y2="625.60" stroke="#000" stroke-width="1.15" />
<line x1="159.53" y1="622.70" x2="159.53" y2="625.60" stroke="#000" stroke-width="1.15" />
<line x1="171.24" y1="622.70" x2="171.24" y2="625.60" stroke="#000" stroke-width="1.15" />
<line x1="194.64" y1="622.70" x2="194.64" y2="625.60" stroke="#000" stroke-width="1.15" />
<line x1="206.35" y1="622.70" x2="206.35" y2="625.60" stroke="#000" stroke-width="1.15" />
<line x1="218.05" y1="622.70" x2="218.05" y2="625.60" stroke="#000" stroke-width="1.15" />
<line x1="229.76" y1="622.70" x2="229.76" y2="625.60" stroke="#000" stroke-width="1.15" />
<line x1="253.16" y1="622.70" x2="253.16" y2="625.60" stroke="#000" stroke-width="1.15" />
<line x1="264.87" y1="622.70" x2="264.87" y2="625.60" stroke="#000" stroke-width="1.15" />
<line x1="276.57" y1="622.70" x2="276.57" y2="625.60" stroke="#000" stroke-width="1.15" />
<line x1="288.28" y1="622.70" x2="288.28" y2="625.60" stroke="#000" stroke-width="1.15" />
<line x1="311.68" y1="622.70" x2="311.68" y2="625.60" stroke="#000" stroke-width="1.15" />
<line x1="323.39" y1="622.70" x2="323.39" y2="625.60" stroke="#000" stroke-width="1.15" />
<line x1="335.09" y1="622.70" x2="335.09" y2="625.60" stroke="#000" stroke-width="1.15" />
<line x1="346.80" y1="622.70" x2="346.80" y2="625.60" stroke="#000" stroke-width="1.15" />
<line x1="370.20" y1="622.70" x2="370.20" y2="625.60" stroke="#000" stroke-width="1.15" />
<line x1="381.91" y1="622.70" x2="381.91" y2="625.60" stroke="#000" stroke-width="1.15" />
<line x1="393.61" y1="622.70" x2="393.61" y2="625.60" stroke="#000" stroke-width="1.15" />
<line x1="405.32" y1="622.70" x2="405.32" y2="625.60" stroke="#000" stroke-width="1.15" />
<line x1="428.72" y1="622.70" x2="428.72" y2="625.60" stroke="#000" stroke-width="1.15" />
<line x1="440.43" y1="622.70" x2="440.43" y2="625.60" stroke="#000" stroke-width="1.15" />
<line x1="452.13" y1="622.70" x2="452.13" y2="625.60" stroke="#000" stroke-width="1.15" />
<line x1="463.84" y1="622.70" x2="463.84" y2="625.60" stroke="#000" stroke-width="1.15" />
<line x1="487.24" y1="622.70" x2="487.24" y2="625.60" stroke="#000" stroke-width="1.15" />
<line x1="498.95" y1="622.70" x2="498.95" y2="625.60" stroke="#000" stroke-width="1.15" />
<line x1="510.65" y1="622.70" x2="510.65" y2="625.60" stroke="#000" stroke-width="1.15" />
<line x1="522.36" y1="622.70" x2="522.36" y2="625.60" stroke="#000" stroke-width="1.15" />
<line x1="545.76" y1="622.70" x2="545.76" y2="625.60" stroke="#000" stroke-width="1.15" />
<line x1="557.47" y1="622.70" x2="557.47" y2="625.60" stroke="#000" stroke-width="1.15" />
<line x1="569.17" y1="622.70" x2="569.17" y2="625.60" stroke="#000" stroke-width="1.15" />
<line x1="580.88" y1="622.70" x2="580.88" y2="625.60" stroke="#000" stroke-width="1.15" />
<line x1="604.28" y1="622.70" x2="604.28" y2="625.60" stroke="#000" stroke-width="1.15" />
<line x1="615.99" y1="622.70" x2="615.99" y2="625.60" stroke="#000" stroke-width="1.15" />
<line x1="627.69" y1="622.70" x2="627.69" y2="625.60" stroke="#000" stroke-width="1.15" />
<line x1="639.40" y1="622.70" x2="639.40" y2="625.60" stroke="#000" stroke-width="1.15" />
<line x1="662.80" y1="622.70" x2="662.80" y2="625.60" stroke="#000" stroke-width="1.15" />
<line x1="662.80" y1="572.50" x2="662.80" y2="625.30" stroke="#000" stroke-width="1.5" />
<rect x="48.30" y="574.40" width="5.50" height="47.20" fill="#000"/>
<line x1="45.10" y1="575.30" x2="49.00" y2="575.30" stroke="#000" stroke-width="2.0" />
<line x1="45.10" y1="584.10" x2="49.00" y2="584.10" stroke="#000" stroke-width="2.0" />
<line x1="45.10" y1="592.90" x2="49.00" y2="592.90" stroke="#000" stroke-width="2.0" />
<line x1="45.10" y1="603.00" x2="49.00" y2="603.00" stroke="#000" stroke-width="2.0" />
<line x1="45.10" y1="611.80" x2="49.00" y2="611.80" stroke="#000" stroke-width="2.0" />
<line x1="45.10" y1="620.60" x2="49.00" y2="620.60" stroke="#000" stroke-width="2.0" />
<rect x="49.60" y="596.15" width="4.30" height="1.10" fill="#fff"/>
<text class="a" transform="translate(39.50,597.30) scale(0.59,1)" font-size="16.8" text-anchor="end">1.5</text>
<text class="a" transform="translate(39.50,625.00) scale(0.59,1)" font-size="16.8" text-anchor="end">0.0</text>
<text class="s" transform="translate(58.10,646.30) scale(0.55,1)" font-size="22.0" text-anchor="middle">0</text>
<text class="s" transform="translate(118.90,646.30) scale(0.55,1)" font-size="22.0" text-anchor="middle">5</text>
<text class="s" transform="translate(180.30,646.30) scale(0.55,1)" font-size="22.0" text-anchor="middle">10</text>
<text class="s" transform="translate(237.40,646.30) scale(0.55,1)" font-size="22.0" text-anchor="middle">15</text>
<text class="s" transform="translate(298.50,646.30) scale(0.55,1)" font-size="22.0" text-anchor="middle">20</text>
<text class="s" transform="translate(356.60,646.30) scale(0.55,1)" font-size="22.0" text-anchor="middle">25</text>
<text class="s" transform="translate(416.70,646.30) scale(0.55,1)" font-size="22.0" text-anchor="middle">30</text>
<text class="s" transform="translate(474.10,646.30) scale(0.55,1)" font-size="22.0" text-anchor="middle">35</text>
<text class="s" transform="translate(535.60,646.30) scale(0.55,1)" font-size="22.0" text-anchor="middle">40</text>
<text class="s" transform="translate(593.30,646.30) scale(0.55,1)" font-size="22.0" text-anchor="middle">45</text>
<text class="s" transform="translate(650.80,646.30) scale(0.55,1)" font-size="22.0" text-anchor="middle">50</text>
<text class="s" transform="translate(550.00,689.50) scale(0.64,1)" font-size="22.0" text-anchor="start">Time(µs)</text>
<text class="s" transform="translate(669.20,586.40) scale(0.56,1)" font-size="23.2" text-anchor="start">d3</text>
<text class="m" transform="translate(11.90,655.60) rotate(-90) scale(1.146,1)" font-size="14.4">voltage(V)</text>
<line x1="66.00" y1="621.00" x2="211.10" y2="621.00" stroke="#e8005a" stroke-width="1.9" />
<line x1="209.90" y1="575.10" x2="228.00" y2="575.10" stroke="#e8005a" stroke-width="2.0" />
<line x1="226.80" y1="621.00" x2="243.90" y2="621.00" stroke="#e8005a" stroke-width="1.9" />
<line x1="242.70" y1="575.10" x2="262.10" y2="575.10" stroke="#e8005a" stroke-width="2.0" />
<line x1="260.90" y1="621.00" x2="277.60" y2="621.00" stroke="#e8005a" stroke-width="1.9" />
<line x1="276.40" y1="575.10" x2="295.70" y2="575.10" stroke="#e8005a" stroke-width="2.0" />
<line x1="294.50" y1="621.00" x2="312.30" y2="621.00" stroke="#e8005a" stroke-width="1.9" />
<line x1="311.10" y1="575.10" x2="330.80" y2="575.10" stroke="#e8005a" stroke-width="2.0" />
<line x1="329.60" y1="621.00" x2="348.80" y2="621.00" stroke="#e8005a" stroke-width="1.9" />
<line x1="347.60" y1="575.10" x2="365.70" y2="575.10" stroke="#e8005a" stroke-width="2.0" />
<line x1="364.50" y1="621.00" x2="383.70" y2="621.00" stroke="#e8005a" stroke-width="1.9" />
<line x1="382.50" y1="575.10" x2="400.70" y2="575.10" stroke="#e8005a" stroke-width="2.0" />
<line x1="399.50" y1="621.00" x2="417.20" y2="621.00" stroke="#e8005a" stroke-width="1.9" />
<line x1="416.00" y1="575.10" x2="434.80" y2="575.10" stroke="#e8005a" stroke-width="2.0" />
<line x1="433.60" y1="621.00" x2="452.40" y2="621.00" stroke="#e8005a" stroke-width="1.9" />
<line x1="451.20" y1="575.10" x2="466.10" y2="575.10" stroke="#e8005a" stroke-width="2.0" />
<line x1="464.90" y1="621.00" x2="483.20" y2="621.00" stroke="#e8005a" stroke-width="1.9" />
<line x1="482.00" y1="575.10" x2="498.90" y2="575.10" stroke="#e8005a" stroke-width="2.0" />
<line x1="497.70" y1="621.00" x2="515.80" y2="621.00" stroke="#e8005a" stroke-width="1.9" />
<line x1="514.60" y1="575.10" x2="532.70" y2="575.10" stroke="#e8005a" stroke-width="2.0" />
<line x1="531.50" y1="621.00" x2="549.60" y2="621.00" stroke="#e8005a" stroke-width="1.9" />
<line x1="548.40" y1="575.10" x2="566.10" y2="575.10" stroke="#e8005a" stroke-width="2.0" />
<line x1="564.90" y1="621.00" x2="582.60" y2="621.00" stroke="#e8005a" stroke-width="1.9" />
<line x1="581.40" y1="575.10" x2="599.30" y2="575.10" stroke="#e8005a" stroke-width="2.0" />
<line x1="598.10" y1="621.00" x2="616.30" y2="621.00" stroke="#e8005a" stroke-width="1.9" />
<line x1="615.10" y1="575.10" x2="633.10" y2="575.10" stroke="#e8005a" stroke-width="2.0" />
<line x1="631.90" y1="621.00" x2="649.40" y2="621.00" stroke="#e8005a" stroke-width="1.9" />
<line x1="648.20" y1="575.10" x2="651.80" y2="575.10" stroke="#e8005a" stroke-width="2.0" />
<line x1="210.50" y1="573.30" x2="210.50" y2="621.90" stroke="#ff2a2a" stroke-width="1.2" />
<line x1="227.40" y1="573.30" x2="227.40" y2="621.90" stroke="#ff2a2a" stroke-width="1.2" />
<line x1="243.30" y1="573.30" x2="243.30" y2="621.90" stroke="#ff2a2a" stroke-width="1.2" />
<line x1="261.50" y1="573.30" x2="261.50" y2="621.90" stroke="#ff2a2a" stroke-width="1.2" />
<line x1="277.00" y1="573.30" x2="277.00" y2="621.90" stroke="#ff2a2a" stroke-width="1.2" />
<line x1="295.10" y1="573.30" x2="295.10" y2="621.90" stroke="#ff2a2a" stroke-width="1.2" />
<line x1="311.70" y1="573.30" x2="311.70" y2="621.90" stroke="#ff2a2a" stroke-width="1.2" />
<line x1="330.20" y1="573.30" x2="330.20" y2="621.90" stroke="#ff2a2a" stroke-width="1.2" />
<line x1="348.20" y1="573.30" x2="348.20" y2="621.90" stroke="#ff2a2a" stroke-width="1.2" />
<line x1="365.10" y1="573.30" x2="365.10" y2="621.90" stroke="#ff2a2a" stroke-width="1.2" />
<line x1="383.10" y1="573.30" x2="383.10" y2="621.90" stroke="#ff2a2a" stroke-width="1.2" />
<line x1="400.10" y1="573.30" x2="400.10" y2="621.90" stroke="#ff2a2a" stroke-width="1.2" />
<line x1="416.60" y1="573.30" x2="416.60" y2="621.90" stroke="#ff2a2a" stroke-width="1.2" />
<line x1="434.20" y1="573.30" x2="434.20" y2="621.90" stroke="#ff2a2a" stroke-width="1.2" />
<line x1="451.80" y1="573.30" x2="451.80" y2="621.90" stroke="#ff2a2a" stroke-width="1.2" />
<line x1="465.50" y1="573.30" x2="465.50" y2="621.90" stroke="#ff2a2a" stroke-width="1.2" />
<line x1="482.60" y1="573.30" x2="482.60" y2="621.90" stroke="#ff2a2a" stroke-width="1.2" />
<line x1="498.30" y1="573.30" x2="498.30" y2="621.90" stroke="#ff2a2a" stroke-width="1.2" />
<line x1="515.20" y1="573.30" x2="515.20" y2="621.90" stroke="#ff2a2a" stroke-width="1.2" />
<line x1="532.10" y1="573.30" x2="532.10" y2="621.90" stroke="#ff2a2a" stroke-width="1.2" />
<line x1="549.00" y1="573.30" x2="549.00" y2="621.90" stroke="#ff2a2a" stroke-width="1.2" />
<line x1="565.50" y1="573.30" x2="565.50" y2="621.90" stroke="#ff2a2a" stroke-width="1.2" />
<line x1="582.00" y1="573.30" x2="582.00" y2="621.90" stroke="#ff2a2a" stroke-width="1.2" />
<line x1="598.70" y1="573.30" x2="598.70" y2="621.90" stroke="#ff2a2a" stroke-width="1.2" />
<line x1="615.70" y1="573.30" x2="615.70" y2="621.90" stroke="#ff2a2a" stroke-width="1.2" />
<line x1="632.50" y1="573.30" x2="632.50" y2="621.90" stroke="#ff2a2a" stroke-width="1.2" />
<line x1="648.80" y1="573.30" x2="648.80" y2="621.90" stroke="#ff2a2a" stroke-width="1.2" />
<line x1="56.70" y1="715.20" x2="663.50" y2="715.20" stroke="#000" stroke-width="1.9" stroke-dasharray="3.5 3.35"/>
<rect x="122.72" y="714.00" width="1.60" height="2.40" fill="#fff"/>
<rect x="181.24" y="714.00" width="1.60" height="2.40" fill="#fff"/>
<rect x="239.76" y="714.00" width="1.60" height="2.40" fill="#fff"/>
<rect x="298.28" y="714.00" width="1.60" height="2.40" fill="#fff"/>
<rect x="356.80" y="714.00" width="1.60" height="2.40" fill="#fff"/>
<rect x="415.32" y="714.00" width="1.60" height="2.40" fill="#fff"/>
<rect x="473.84" y="714.00" width="1.60" height="2.40" fill="#fff"/>
<rect x="532.36" y="714.00" width="1.60" height="2.40" fill="#fff"/>
<rect x="590.88" y="714.00" width="1.60" height="2.40" fill="#fff"/>
<rect x="649.40" y="714.00" width="1.60" height="2.40" fill="#fff"/>
<line x1="53.00" y1="762.70" x2="663.50" y2="762.70" stroke="#000" stroke-width="1.7" />
<line x1="77.60" y1="762.70" x2="77.60" y2="765.60" stroke="#000" stroke-width="1.15" />
<line x1="89.31" y1="762.70" x2="89.31" y2="765.60" stroke="#000" stroke-width="1.15" />
<line x1="101.01" y1="762.70" x2="101.01" y2="765.60" stroke="#000" stroke-width="1.15" />
<line x1="112.72" y1="762.70" x2="112.72" y2="765.60" stroke="#000" stroke-width="1.15" />
<line x1="136.12" y1="762.70" x2="136.12" y2="765.60" stroke="#000" stroke-width="1.15" />
<line x1="147.83" y1="762.70" x2="147.83" y2="765.60" stroke="#000" stroke-width="1.15" />
<line x1="159.53" y1="762.70" x2="159.53" y2="765.60" stroke="#000" stroke-width="1.15" />
<line x1="171.24" y1="762.70" x2="171.24" y2="765.60" stroke="#000" stroke-width="1.15" />
<line x1="194.64" y1="762.70" x2="194.64" y2="765.60" stroke="#000" stroke-width="1.15" />
<line x1="206.35" y1="762.70" x2="206.35" y2="765.60" stroke="#000" stroke-width="1.15" />
<line x1="218.05" y1="762.70" x2="218.05" y2="765.60" stroke="#000" stroke-width="1.15" />
<line x1="229.76" y1="762.70" x2="229.76" y2="765.60" stroke="#000" stroke-width="1.15" />
<line x1="253.16" y1="762.70" x2="253.16" y2="765.60" stroke="#000" stroke-width="1.15" />
<line x1="264.87" y1="762.70" x2="264.87" y2="765.60" stroke="#000" stroke-width="1.15" />
<line x1="276.57" y1="762.70" x2="276.57" y2="765.60" stroke="#000" stroke-width="1.15" />
<line x1="288.28" y1="762.70" x2="288.28" y2="765.60" stroke="#000" stroke-width="1.15" />
<line x1="311.68" y1="762.70" x2="311.68" y2="765.60" stroke="#000" stroke-width="1.15" />
<line x1="323.39" y1="762.70" x2="323.39" y2="765.60" stroke="#000" stroke-width="1.15" />
<line x1="335.09" y1="762.70" x2="335.09" y2="765.60" stroke="#000" stroke-width="1.15" />
<line x1="346.80" y1="762.70" x2="346.80" y2="765.60" stroke="#000" stroke-width="1.15" />
<line x1="370.20" y1="762.70" x2="370.20" y2="765.60" stroke="#000" stroke-width="1.15" />
<line x1="381.91" y1="762.70" x2="381.91" y2="765.60" stroke="#000" stroke-width="1.15" />
<line x1="393.61" y1="762.70" x2="393.61" y2="765.60" stroke="#000" stroke-width="1.15" />
<line x1="405.32" y1="762.70" x2="405.32" y2="765.60" stroke="#000" stroke-width="1.15" />
<line x1="428.72" y1="762.70" x2="428.72" y2="765.60" stroke="#000" stroke-width="1.15" />
<line x1="440.43" y1="762.70" x2="440.43" y2="765.60" stroke="#000" stroke-width="1.15" />
<line x1="452.13" y1="762.70" x2="452.13" y2="765.60" stroke="#000" stroke-width="1.15" />
<line x1="463.84" y1="762.70" x2="463.84" y2="765.60" stroke="#000" stroke-width="1.15" />
<line x1="487.24" y1="762.70" x2="487.24" y2="765.60" stroke="#000" stroke-width="1.15" />
<line x1="498.95" y1="762.70" x2="498.95" y2="765.60" stroke="#000" stroke-width="1.15" />
<line x1="510.65" y1="762.70" x2="510.65" y2="765.60" stroke="#000" stroke-width="1.15" />
<line x1="522.36" y1="762.70" x2="522.36" y2="765.60" stroke="#000" stroke-width="1.15" />
<line x1="545.76" y1="762.70" x2="545.76" y2="765.60" stroke="#000" stroke-width="1.15" />
<line x1="557.47" y1="762.70" x2="557.47" y2="765.60" stroke="#000" stroke-width="1.15" />
<line x1="569.17" y1="762.70" x2="569.17" y2="765.60" stroke="#000" stroke-width="1.15" />
<line x1="580.88" y1="762.70" x2="580.88" y2="765.60" stroke="#000" stroke-width="1.15" />
<line x1="604.28" y1="762.70" x2="604.28" y2="765.60" stroke="#000" stroke-width="1.15" />
<line x1="615.99" y1="762.70" x2="615.99" y2="765.60" stroke="#000" stroke-width="1.15" />
<line x1="627.69" y1="762.70" x2="627.69" y2="765.60" stroke="#000" stroke-width="1.15" />
<line x1="639.40" y1="762.70" x2="639.40" y2="765.60" stroke="#000" stroke-width="1.15" />
<line x1="662.80" y1="762.70" x2="662.80" y2="765.60" stroke="#000" stroke-width="1.15" />
<line x1="662.80" y1="714.40" x2="662.80" y2="765.30" stroke="#000" stroke-width="1.5" />
<rect x="48.30" y="714.60" width="5.50" height="47.00" fill="#000"/>
<line x1="45.10" y1="715.50" x2="49.00" y2="715.50" stroke="#000" stroke-width="2.0" />
<line x1="45.10" y1="725.56" x2="49.00" y2="725.56" stroke="#000" stroke-width="2.0" />
<line x1="45.10" y1="734.32" x2="49.00" y2="734.32" stroke="#000" stroke-width="2.0" />
<line x1="45.10" y1="743.08" x2="49.00" y2="743.08" stroke="#000" stroke-width="2.0" />
<line x1="45.10" y1="751.84" x2="49.00" y2="751.84" stroke="#000" stroke-width="2.0" />
<line x1="45.10" y1="760.60" x2="49.00" y2="760.60" stroke="#000" stroke-width="2.0" />
<rect x="49.60" y="724.35" width="4.30" height="1.10" fill="#fff"/>
<text class="a" transform="translate(39.50,738.80) scale(0.59,1)" font-size="16.8" text-anchor="end">1.5</text>
<text class="a" transform="translate(39.50,765.40) scale(0.59,1)" font-size="16.8" text-anchor="end">0.0</text>
<text class="s" transform="translate(63.80,787.00) scale(0.55,1)" font-size="22.0" text-anchor="middle">0</text>
<text class="s" transform="translate(124.90,787.00) scale(0.55,1)" font-size="22.0" text-anchor="middle">5</text>
<text class="s" transform="translate(186.40,787.00) scale(0.55,1)" font-size="22.0" text-anchor="middle">10</text>
<text class="s" transform="translate(243.40,787.00) scale(0.55,1)" font-size="22.0" text-anchor="middle">15</text>
<text class="s" transform="translate(304.20,787.00) scale(0.55,1)" font-size="22.0" text-anchor="middle">20</text>
<text class="s" transform="translate(362.30,787.00) scale(0.55,1)" font-size="22.0" text-anchor="middle">25</text>
<text class="s" transform="translate(422.80,787.00) scale(0.55,1)" font-size="22.0" text-anchor="middle">30</text>
<text class="s" transform="translate(480.20,787.00) scale(0.55,1)" font-size="22.0" text-anchor="middle">35</text>
<text class="s" transform="translate(541.30,787.00) scale(0.55,1)" font-size="22.0" text-anchor="middle">40</text>
<text class="s" transform="translate(598.60,787.00) scale(0.55,1)" font-size="22.0" text-anchor="middle">45</text>
<text class="s" transform="translate(656.30,787.00) scale(0.55,1)" font-size="22.0" text-anchor="middle">50</text>
<text class="s" transform="translate(552.40,819.70) scale(0.64,1)" font-size="22.0" text-anchor="start">Time(µs)</text>
<text class="s" transform="translate(667.90,723.00) scale(0.56,1)" font-size="23.2" text-anchor="start">d2</text>
<text class="m" transform="translate(11.90,800.30) rotate(-90) scale(1.146,1)" font-size="14.4">voltage(V)</text>
<line x1="66.00" y1="760.95" x2="203.05" y2="760.95" stroke="#0a5cff" stroke-width="1.9" />
<line x1="201.75" y1="715.30" x2="211.15" y2="715.30" stroke="#1a1aff" stroke-width="2.4" />
<line x1="209.85" y1="760.95" x2="219.15" y2="760.95" stroke="#0a5cff" stroke-width="1.9" />
<line x1="217.85" y1="715.30" x2="228.05" y2="715.30" stroke="#1a1aff" stroke-width="2.4" />
<line x1="226.75" y1="760.95" x2="235.55" y2="760.95" stroke="#0a5cff" stroke-width="1.9" />
<line x1="234.25" y1="715.30" x2="243.95" y2="715.30" stroke="#1a1aff" stroke-width="2.4" />
<line x1="242.65" y1="760.95" x2="253.05" y2="760.95" stroke="#0a5cff" stroke-width="1.9" />
<line x1="251.75" y1="715.30" x2="262.15" y2="715.30" stroke="#1a1aff" stroke-width="2.4" />
<line x1="260.85" y1="760.95" x2="269.35" y2="760.95" stroke="#0a5cff" stroke-width="1.9" />
<line x1="268.05" y1="715.30" x2="277.65" y2="715.30" stroke="#1a1aff" stroke-width="2.4" />
<line x1="276.35" y1="760.95" x2="286.45" y2="760.95" stroke="#0a5cff" stroke-width="1.9" />
<line x1="285.15" y1="715.30" x2="295.75" y2="715.30" stroke="#1a1aff" stroke-width="2.4" />
<line x1="294.45" y1="760.95" x2="303.75" y2="760.95" stroke="#0a5cff" stroke-width="1.9" />
<line x1="302.45" y1="715.30" x2="312.35" y2="715.30" stroke="#1a1aff" stroke-width="2.4" />
<line x1="311.05" y1="760.95" x2="321.45" y2="760.95" stroke="#0a5cff" stroke-width="1.9" />
<line x1="320.15" y1="715.30" x2="330.85" y2="715.30" stroke="#1a1aff" stroke-width="2.4" />
<line x1="329.55" y1="760.95" x2="340.15" y2="760.95" stroke="#0a5cff" stroke-width="1.9" />
<line x1="338.85" y1="715.30" x2="348.85" y2="715.30" stroke="#1a1aff" stroke-width="2.4" />
<line x1="347.55" y1="760.95" x2="356.35" y2="760.95" stroke="#0a5cff" stroke-width="1.9" />
<line x1="355.05" y1="715.30" x2="365.75" y2="715.30" stroke="#1a1aff" stroke-width="2.4" />
<line x1="364.45" y1="760.95" x2="374.75" y2="760.95" stroke="#0a5cff" stroke-width="1.9" />
<line x1="373.45" y1="715.30" x2="383.75" y2="715.30" stroke="#1a1aff" stroke-width="2.4" />
<line x1="382.45" y1="760.95" x2="391.35" y2="760.95" stroke="#0a5cff" stroke-width="1.9" />
<line x1="390.05" y1="715.30" x2="400.75" y2="715.30" stroke="#1a1aff" stroke-width="2.4" />
<line x1="399.45" y1="760.95" x2="408.45" y2="760.95" stroke="#0a5cff" stroke-width="1.9" />
<line x1="407.15" y1="715.30" x2="417.25" y2="715.30" stroke="#1a1aff" stroke-width="2.4" />
<line x1="415.95" y1="760.95" x2="426.15" y2="760.95" stroke="#0a5cff" stroke-width="1.9" />
<line x1="424.85" y1="715.30" x2="434.85" y2="715.30" stroke="#1a1aff" stroke-width="2.4" />
<line x1="433.55" y1="760.95" x2="443.45" y2="760.95" stroke="#0a5cff" stroke-width="1.9" />
<line x1="442.15" y1="715.30" x2="452.45" y2="715.30" stroke="#1a1aff" stroke-width="2.4" />
<line x1="451.15" y1="760.95" x2="460.25" y2="760.95" stroke="#0a5cff" stroke-width="1.9" />
<line x1="458.95" y1="715.30" x2="466.15" y2="715.30" stroke="#1a1aff" stroke-width="2.4" />
<line x1="464.85" y1="760.95" x2="474.65" y2="760.95" stroke="#0a5cff" stroke-width="1.9" />
<line x1="473.35" y1="715.30" x2="483.25" y2="715.30" stroke="#1a1aff" stroke-width="2.4" />
<line x1="481.95" y1="760.95" x2="491.05" y2="760.95" stroke="#0a5cff" stroke-width="1.9" />
<line x1="489.75" y1="715.30" x2="498.95" y2="715.30" stroke="#1a1aff" stroke-width="2.4" />
<line x1="497.65" y1="760.95" x2="507.75" y2="760.95" stroke="#0a5cff" stroke-width="1.9" />
<line x1="506.45" y1="715.30" x2="515.85" y2="715.30" stroke="#1a1aff" stroke-width="2.4" />
<line x1="514.55" y1="760.95" x2="524.75" y2="760.95" stroke="#0a5cff" stroke-width="1.9" />
<line x1="523.45" y1="715.30" x2="532.75" y2="715.30" stroke="#1a1aff" stroke-width="2.4" />
<line x1="531.45" y1="760.95" x2="540.85" y2="760.95" stroke="#0a5cff" stroke-width="1.9" />
<line x1="539.55" y1="715.30" x2="549.65" y2="715.30" stroke="#1a1aff" stroke-width="2.4" />
<line x1="548.35" y1="760.95" x2="557.75" y2="760.95" stroke="#0a5cff" stroke-width="1.9" />
<line x1="556.45" y1="715.30" x2="566.15" y2="715.30" stroke="#1a1aff" stroke-width="2.4" />
<line x1="564.85" y1="760.95" x2="574.25" y2="760.95" stroke="#0a5cff" stroke-width="1.9" />
<line x1="572.95" y1="715.30" x2="582.65" y2="715.30" stroke="#1a1aff" stroke-width="2.4" />
<line x1="581.35" y1="760.95" x2="591.15" y2="760.95" stroke="#0a5cff" stroke-width="1.9" />
<line x1="589.85" y1="715.30" x2="599.35" y2="715.30" stroke="#1a1aff" stroke-width="2.4" />
<line x1="598.05" y1="760.95" x2="607.95" y2="760.95" stroke="#0a5cff" stroke-width="1.9" />
<line x1="606.65" y1="715.30" x2="616.35" y2="715.30" stroke="#1a1aff" stroke-width="2.4" />
<line x1="615.05" y1="760.95" x2="624.45" y2="760.95" stroke="#0a5cff" stroke-width="1.9" />
<line x1="623.15" y1="715.30" x2="633.15" y2="715.30" stroke="#1a1aff" stroke-width="2.4" />
<line x1="631.85" y1="760.95" x2="641.25" y2="760.95" stroke="#0a5cff" stroke-width="1.9" />
<line x1="639.95" y1="715.30" x2="649.45" y2="715.30" stroke="#1a1aff" stroke-width="2.4" />
<line x1="648.15" y1="760.95" x2="651.80" y2="760.95" stroke="#0a5cff" stroke-width="1.9" />
<line x1="202.40" y1="714.30" x2="202.40" y2="761.90" stroke="#2a2aff" stroke-width="1.3" />
<line x1="210.50" y1="714.30" x2="210.50" y2="761.90" stroke="#2a2aff" stroke-width="1.3" />
<line x1="218.50" y1="714.30" x2="218.50" y2="761.90" stroke="#2a2aff" stroke-width="1.3" />
<line x1="227.40" y1="714.30" x2="227.40" y2="761.90" stroke="#2a2aff" stroke-width="1.3" />
<line x1="234.90" y1="714.30" x2="234.90" y2="761.90" stroke="#2a2aff" stroke-width="1.3" />
<line x1="243.30" y1="714.30" x2="243.30" y2="761.90" stroke="#2a2aff" stroke-width="1.3" />
<line x1="252.40" y1="714.30" x2="252.40" y2="761.90" stroke="#2a2aff" stroke-width="1.3" />
<line x1="261.50" y1="714.30" x2="261.50" y2="761.90" stroke="#2a2aff" stroke-width="1.3" />
<line x1="268.70" y1="714.30" x2="268.70" y2="761.90" stroke="#2a2aff" stroke-width="1.3" />
<line x1="277.00" y1="714.30" x2="277.00" y2="761.90" stroke="#2a2aff" stroke-width="1.3" />
<line x1="285.80" y1="714.30" x2="285.80" y2="761.90" stroke="#2a2aff" stroke-width="1.3" />
<line x1="295.10" y1="714.30" x2="295.10" y2="761.90" stroke="#2a2aff" stroke-width="1.3" />
<line x1="303.10" y1="714.30" x2="303.10" y2="761.90" stroke="#2a2aff" stroke-width="1.3" />
<line x1="311.70" y1="714.30" x2="311.70" y2="761.90" stroke="#2a2aff" stroke-width="1.3" />
<line x1="320.80" y1="714.30" x2="320.80" y2="761.90" stroke="#2a2aff" stroke-width="1.3" />
<line x1="330.20" y1="714.30" x2="330.20" y2="761.90" stroke="#2a2aff" stroke-width="1.3" />
<line x1="339.50" y1="714.30" x2="339.50" y2="761.90" stroke="#2a2aff" stroke-width="1.3" />
<line x1="348.20" y1="714.30" x2="348.20" y2="761.90" stroke="#2a2aff" stroke-width="1.3" />
<line x1="355.70" y1="714.30" x2="355.70" y2="761.90" stroke="#2a2aff" stroke-width="1.3" />
<line x1="365.10" y1="714.30" x2="365.10" y2="761.90" stroke="#2a2aff" stroke-width="1.3" />
<line x1="374.10" y1="714.30" x2="374.10" y2="761.90" stroke="#2a2aff" stroke-width="1.3" />
<line x1="383.10" y1="714.30" x2="383.10" y2="761.90" stroke="#2a2aff" stroke-width="1.3" />
<line x1="390.70" y1="714.30" x2="390.70" y2="761.90" stroke="#2a2aff" stroke-width="1.3" />
<line x1="400.10" y1="714.30" x2="400.10" y2="761.90" stroke="#2a2aff" stroke-width="1.3" />
<line x1="407.80" y1="714.30" x2="407.80" y2="761.90" stroke="#2a2aff" stroke-width="1.3" />
<line x1="416.60" y1="714.30" x2="416.60" y2="761.90" stroke="#2a2aff" stroke-width="1.3" />
<line x1="425.50" y1="714.30" x2="425.50" y2="761.90" stroke="#2a2aff" stroke-width="1.3" />
<line x1="434.20" y1="714.30" x2="434.20" y2="761.90" stroke="#2a2aff" stroke-width="1.3" />
<line x1="442.80" y1="714.30" x2="442.80" y2="761.90" stroke="#2a2aff" stroke-width="1.3" />
<line x1="451.80" y1="714.30" x2="451.80" y2="761.90" stroke="#2a2aff" stroke-width="1.3" />
<line x1="459.60" y1="714.30" x2="459.60" y2="761.90" stroke="#2a2aff" stroke-width="1.3" />
<line x1="465.50" y1="714.30" x2="465.50" y2="761.90" stroke="#2a2aff" stroke-width="1.3" />
<line x1="474.00" y1="714.30" x2="474.00" y2="761.90" stroke="#2a2aff" stroke-width="1.3" />
<line x1="482.60" y1="714.30" x2="482.60" y2="761.90" stroke="#2a2aff" stroke-width="1.3" />
<line x1="490.40" y1="714.30" x2="490.40" y2="761.90" stroke="#2a2aff" stroke-width="1.3" />
<line x1="498.30" y1="714.30" x2="498.30" y2="761.90" stroke="#2a2aff" stroke-width="1.3" />
<line x1="507.10" y1="714.30" x2="507.10" y2="761.90" stroke="#2a2aff" stroke-width="1.3" />
<line x1="515.20" y1="714.30" x2="515.20" y2="761.90" stroke="#2a2aff" stroke-width="1.3" />
<line x1="524.10" y1="714.30" x2="524.10" y2="761.90" stroke="#2a2aff" stroke-width="1.3" />
<line x1="532.10" y1="714.30" x2="532.10" y2="761.90" stroke="#2a2aff" stroke-width="1.3" />
<line x1="540.20" y1="714.30" x2="540.20" y2="761.90" stroke="#2a2aff" stroke-width="1.3" />
<line x1="549.00" y1="714.30" x2="549.00" y2="761.90" stroke="#2a2aff" stroke-width="1.3" />
<line x1="557.10" y1="714.30" x2="557.10" y2="761.90" stroke="#2a2aff" stroke-width="1.3" />
<line x1="565.50" y1="714.30" x2="565.50" y2="761.90" stroke="#2a2aff" stroke-width="1.3" />
<line x1="573.60" y1="714.30" x2="573.60" y2="761.90" stroke="#2a2aff" stroke-width="1.3" />
<line x1="582.00" y1="714.30" x2="582.00" y2="761.90" stroke="#2a2aff" stroke-width="1.3" />
<line x1="590.50" y1="714.30" x2="590.50" y2="761.90" stroke="#2a2aff" stroke-width="1.3" />
<line x1="598.70" y1="714.30" x2="598.70" y2="761.90" stroke="#2a2aff" stroke-width="1.3" />
<line x1="607.30" y1="714.30" x2="607.30" y2="761.90" stroke="#2a2aff" stroke-width="1.3" />
<line x1="615.70" y1="714.30" x2="615.70" y2="761.90" stroke="#2a2aff" stroke-width="1.3" />
<line x1="623.80" y1="714.30" x2="623.80" y2="761.90" stroke="#2a2aff" stroke-width="1.3" />
<line x1="632.50" y1="714.30" x2="632.50" y2="761.90" stroke="#2a2aff" stroke-width="1.3" />
<line x1="640.60" y1="714.30" x2="640.60" y2="761.90" stroke="#2a2aff" stroke-width="1.3" />
<line x1="648.80" y1="714.30" x2="648.80" y2="761.90" stroke="#2a2aff" stroke-width="1.3" />
<line x1="53.00" y1="855.15" x2="663.50" y2="855.15" stroke="#000" stroke-width="1.7" />
<rect x="64.20" y="853.95" width="1.60" height="2.40" fill="#fff"/>
<rect x="122.72" y="853.95" width="1.60" height="2.40" fill="#fff"/>
<rect x="181.24" y="853.95" width="1.60" height="2.40" fill="#fff"/>
<rect x="239.76" y="853.95" width="1.60" height="2.40" fill="#fff"/>
<rect x="298.28" y="853.95" width="1.60" height="2.40" fill="#fff"/>
<rect x="356.80" y="853.95" width="1.60" height="2.40" fill="#fff"/>
<rect x="415.32" y="853.95" width="1.60" height="2.40" fill="#fff"/>
<rect x="473.84" y="853.95" width="1.60" height="2.40" fill="#fff"/>
<rect x="532.36" y="853.95" width="1.60" height="2.40" fill="#fff"/>
<rect x="590.88" y="853.95" width="1.60" height="2.40" fill="#fff"/>
<rect x="649.40" y="853.95" width="1.60" height="2.40" fill="#fff"/>
<line x1="55.90" y1="903.00" x2="663.50" y2="903.00" stroke="#000" stroke-width="1.8" stroke-dasharray="3.5 3.35"/>
<line x1="77.60" y1="903.00" x2="77.60" y2="905.00" stroke="#000" stroke-width="0.9" />
<line x1="89.31" y1="903.00" x2="89.31" y2="905.00" stroke="#000" stroke-width="0.9" />
<line x1="101.01" y1="903.00" x2="101.01" y2="905.00" stroke="#000" stroke-width="0.9" />
<line x1="112.72" y1="903.00" x2="112.72" y2="905.00" stroke="#000" stroke-width="0.9" />
<line x1="136.12" y1="903.00" x2="136.12" y2="905.00" stroke="#000" stroke-width="0.9" />
<line x1="147.83" y1="903.00" x2="147.83" y2="905.00" stroke="#000" stroke-width="0.9" />
<line x1="159.53" y1="903.00" x2="159.53" y2="905.00" stroke="#000" stroke-width="0.9" />
<line x1="171.24" y1="903.00" x2="171.24" y2="905.00" stroke="#000" stroke-width="0.9" />
<line x1="194.64" y1="903.00" x2="194.64" y2="905.00" stroke="#000" stroke-width="0.9" />
<line x1="206.35" y1="903.00" x2="206.35" y2="905.00" stroke="#000" stroke-width="0.9" />
<line x1="218.05" y1="903.00" x2="218.05" y2="905.00" stroke="#000" stroke-width="0.9" />
<line x1="229.76" y1="903.00" x2="229.76" y2="905.00" stroke="#000" stroke-width="0.9" />
<line x1="253.16" y1="903.00" x2="253.16" y2="905.00" stroke="#000" stroke-width="0.9" />
<line x1="264.87" y1="903.00" x2="264.87" y2="905.00" stroke="#000" stroke-width="0.9" />
<line x1="276.57" y1="903.00" x2="276.57" y2="905.00" stroke="#000" stroke-width="0.9" />
<line x1="288.28" y1="903.00" x2="288.28" y2="905.00" stroke="#000" stroke-width="0.9" />
<line x1="311.68" y1="903.00" x2="311.68" y2="905.00" stroke="#000" stroke-width="0.9" />
<line x1="323.39" y1="903.00" x2="323.39" y2="905.00" stroke="#000" stroke-width="0.9" />
<line x1="335.09" y1="903.00" x2="335.09" y2="905.00" stroke="#000" stroke-width="0.9" />
<line x1="346.80" y1="903.00" x2="346.80" y2="905.00" stroke="#000" stroke-width="0.9" />
<line x1="370.20" y1="903.00" x2="370.20" y2="905.00" stroke="#000" stroke-width="0.9" />
<line x1="381.91" y1="903.00" x2="381.91" y2="905.00" stroke="#000" stroke-width="0.9" />
<line x1="393.61" y1="903.00" x2="393.61" y2="905.00" stroke="#000" stroke-width="0.9" />
<line x1="405.32" y1="903.00" x2="405.32" y2="905.00" stroke="#000" stroke-width="0.9" />
<line x1="428.72" y1="903.00" x2="428.72" y2="905.00" stroke="#000" stroke-width="0.9" />
<line x1="440.43" y1="903.00" x2="440.43" y2="905.00" stroke="#000" stroke-width="0.9" />
<line x1="452.13" y1="903.00" x2="452.13" y2="905.00" stroke="#000" stroke-width="0.9" />
<line x1="463.84" y1="903.00" x2="463.84" y2="905.00" stroke="#000" stroke-width="0.9" />
<line x1="487.24" y1="903.00" x2="487.24" y2="905.00" stroke="#000" stroke-width="0.9" />
<line x1="498.95" y1="903.00" x2="498.95" y2="905.00" stroke="#000" stroke-width="0.9" />
<line x1="510.65" y1="903.00" x2="510.65" y2="905.00" stroke="#000" stroke-width="0.9" />
<line x1="522.36" y1="903.00" x2="522.36" y2="905.00" stroke="#000" stroke-width="0.9" />
<line x1="545.76" y1="903.00" x2="545.76" y2="905.00" stroke="#000" stroke-width="0.9" />
<line x1="557.47" y1="903.00" x2="557.47" y2="905.00" stroke="#000" stroke-width="0.9" />
<line x1="569.17" y1="903.00" x2="569.17" y2="905.00" stroke="#000" stroke-width="0.9" />
<line x1="580.88" y1="903.00" x2="580.88" y2="905.00" stroke="#000" stroke-width="0.9" />
<line x1="604.28" y1="903.00" x2="604.28" y2="905.00" stroke="#000" stroke-width="0.9" />
<line x1="615.99" y1="903.00" x2="615.99" y2="905.00" stroke="#000" stroke-width="0.9" />
<line x1="627.69" y1="903.00" x2="627.69" y2="905.00" stroke="#000" stroke-width="0.9" />
<line x1="639.40" y1="903.00" x2="639.40" y2="905.00" stroke="#000" stroke-width="0.9" />
<line x1="662.80" y1="854.35" x2="662.80" y2="905.60" stroke="#000" stroke-width="1.5" />
<rect x="48.30" y="856.50" width="5.50" height="47.50" fill="#000"/>
<line x1="45.10" y1="857.40" x2="49.00" y2="857.40" stroke="#000" stroke-width="2.0" />
<line x1="45.10" y1="866.26" x2="49.00" y2="866.26" stroke="#000" stroke-width="2.0" />
<line x1="45.10" y1="875.12" x2="49.00" y2="875.12" stroke="#000" stroke-width="2.0" />
<line x1="45.10" y1="883.98" x2="49.00" y2="883.98" stroke="#000" stroke-width="2.0" />
<line x1="45.10" y1="892.84" x2="49.00" y2="892.84" stroke="#000" stroke-width="2.0" />
<line x1="45.10" y1="903.00" x2="49.00" y2="903.00" stroke="#000" stroke-width="2.0" />
<rect x="49.60" y="898.65" width="4.30" height="1.10" fill="#fff"/>
<text class="a" transform="translate(39.50,878.80) scale(0.59,1)" font-size="16.8" text-anchor="end">1.5</text>
<text class="a" transform="translate(39.50,907.30) scale(0.59,1)" font-size="16.8" text-anchor="end">0.0</text>
<text class="s" transform="translate(63.80,925.60) scale(0.55,1)" font-size="22.0" text-anchor="middle">0</text>
<text class="s" transform="translate(124.90,925.60) scale(0.55,1)" font-size="22.0" text-anchor="middle">5</text>
<text class="s" transform="translate(186.40,925.60) scale(0.55,1)" font-size="22.0" text-anchor="middle">10</text>
<text class="s" transform="translate(243.40,925.60) scale(0.55,1)" font-size="22.0" text-anchor="middle">15</text>
<text class="s" transform="translate(304.20,925.60) scale(0.55,1)" font-size="22.0" text-anchor="middle">20</text>
<text class="s" transform="translate(362.30,925.60) scale(0.55,1)" font-size="22.0" text-anchor="middle">25</text>
<text class="s" transform="translate(422.80,925.60) scale(0.55,1)" font-size="22.0" text-anchor="middle">30</text>
<text class="s" transform="translate(481.20,925.60) scale(0.55,1)" font-size="22.0" text-anchor="middle">35</text>
<text class="s" transform="translate(541.30,925.60) scale(0.55,1)" font-size="22.0" text-anchor="middle">40</text>
<text class="s" transform="translate(598.60,925.60) scale(0.55,1)" font-size="22.0" text-anchor="middle">45</text>
<text class="s" transform="translate(656.30,925.60) scale(0.55,1)" font-size="22.0" text-anchor="middle">50</text>
<text class="s" transform="translate(555.00,961.50) scale(0.64,1)" font-size="22.0" text-anchor="start">Time(µs)</text>
<text class="s" transform="translate(670.10,863.20) scale(0.56,1)" font-size="23.2" text-anchor="start">d1</text>
<text class="m" transform="translate(15.10,939.60) rotate(-90) scale(1.146,1)" font-size="14.4">voltage(V)</text>
<line x1="198.25" y1="856.95" x2="202.95" y2="856.95" stroke="#e8005a" stroke-width="2.0" />
<line x1="205.95" y1="856.95" x2="211.05" y2="856.95" stroke="#e8005a" stroke-width="2.0" />
<line x1="213.85" y1="856.95" x2="219.05" y2="856.95" stroke="#e8005a" stroke-width="2.0" />
<line x1="221.85" y1="856.95" x2="227.95" y2="856.95" stroke="#e8005a" stroke-width="2.0" />
<line x1="229.85" y1="856.95" x2="235.45" y2="856.95" stroke="#e8005a" stroke-width="2.0" />
<line x1="239.25" y1="856.95" x2="243.85" y2="856.95" stroke="#e8005a" stroke-width="2.0" />
<line x1="246.95" y1="856.95" x2="252.95" y2="856.95" stroke="#e8005a" stroke-width="2.0" />
<line x1="256.05" y1="856.95" x2="262.05" y2="856.95" stroke="#e8005a" stroke-width="2.0" />
<line x1="264.05" y1="856.95" x2="269.25" y2="856.95" stroke="#e8005a" stroke-width="2.0" />
<line x1="272.30" y1="856.95" x2="277.55" y2="856.95" stroke="#e8005a" stroke-width="2.0" />
<line x1="280.85" y1="856.95" x2="286.35" y2="856.95" stroke="#e8005a" stroke-width="2.0" />
<line x1="289.90" y1="856.95" x2="295.65" y2="856.95" stroke="#e8005a" stroke-width="2.0" />
<line x1="298.55" y1="856.95" x2="303.65" y2="856.95" stroke="#e8005a" stroke-width="2.0" />
<line x1="306.85" y1="856.95" x2="312.25" y2="856.95" stroke="#e8005a" stroke-width="2.0" />
<line x1="315.70" y1="856.95" x2="321.35" y2="856.95" stroke="#e8005a" stroke-width="2.0" />
<line x1="324.95" y1="856.95" x2="330.75" y2="856.95" stroke="#e8005a" stroke-width="2.0" />
<line x1="334.30" y1="856.95" x2="340.05" y2="856.95" stroke="#e8005a" stroke-width="2.0" />
<line x1="343.30" y1="856.95" x2="348.75" y2="856.95" stroke="#e8005a" stroke-width="2.0" />
<line x1="351.40" y1="856.95" x2="356.25" y2="856.95" stroke="#e8005a" stroke-width="2.0" />
<line x1="359.85" y1="856.95" x2="365.65" y2="856.95" stroke="#e8005a" stroke-width="2.0" />
<line x1="369.05" y1="856.95" x2="374.65" y2="856.95" stroke="#e8005a" stroke-width="2.0" />
<line x1="378.05" y1="856.95" x2="383.65" y2="856.95" stroke="#e8005a" stroke-width="2.0" />
<line x1="386.35" y1="856.95" x2="391.25" y2="856.95" stroke="#e8005a" stroke-width="2.0" />
<line x1="394.85" y1="856.95" x2="400.65" y2="856.95" stroke="#e8005a" stroke-width="2.0" />
<line x1="403.40" y1="856.95" x2="408.35" y2="856.95" stroke="#e8005a" stroke-width="2.0" />
<line x1="411.65" y1="856.95" x2="417.15" y2="856.95" stroke="#e8005a" stroke-width="2.0" />
<line x1="420.50" y1="856.95" x2="426.05" y2="856.95" stroke="#e8005a" stroke-width="2.0" />
<line x1="429.30" y1="856.95" x2="434.75" y2="856.95" stroke="#e8005a" stroke-width="2.0" />
<line x1="437.95" y1="856.95" x2="443.35" y2="856.95" stroke="#e8005a" stroke-width="2.0" />
<line x1="446.65" y1="856.95" x2="452.35" y2="856.95" stroke="#e8005a" stroke-width="2.0" />
<line x1="455.05" y1="856.95" x2="460.15" y2="856.95" stroke="#e8005a" stroke-width="2.0" />
<line x1="460.15" y1="856.95" x2="466.05" y2="856.95" stroke="#e8005a" stroke-width="2.0" />
<line x1="467.85" y1="856.95" x2="474.55" y2="856.95" stroke="#e8005a" stroke-width="2.0" />
<line x1="477.05" y1="856.95" x2="483.15" y2="856.95" stroke="#e8005a" stroke-width="2.0" />
<line x1="486.05" y1="856.95" x2="490.95" y2="856.95" stroke="#e8005a" stroke-width="2.0" />
<line x1="493.95" y1="856.95" x2="498.85" y2="856.95" stroke="#e8005a" stroke-width="2.0" />
<line x1="502.15" y1="856.95" x2="507.65" y2="856.95" stroke="#e8005a" stroke-width="2.0" />
<line x1="510.60" y1="856.95" x2="515.75" y2="856.95" stroke="#e8005a" stroke-width="2.0" />
<line x1="519.10" y1="856.95" x2="524.65" y2="856.95" stroke="#e8005a" stroke-width="2.0" />
<line x1="527.55" y1="856.95" x2="532.65" y2="856.95" stroke="#e8005a" stroke-width="2.0" />
<line x1="535.60" y1="856.95" x2="540.75" y2="856.95" stroke="#e8005a" stroke-width="2.0" />
<line x1="544.05" y1="856.95" x2="549.55" y2="856.95" stroke="#e8005a" stroke-width="2.0" />
<line x1="552.50" y1="856.95" x2="557.65" y2="856.95" stroke="#e8005a" stroke-width="2.0" />
<line x1="560.75" y1="856.95" x2="566.05" y2="856.95" stroke="#e8005a" stroke-width="2.0" />
<line x1="569.00" y1="856.95" x2="574.15" y2="856.95" stroke="#e8005a" stroke-width="2.0" />
<line x1="577.25" y1="856.95" x2="582.55" y2="856.95" stroke="#e8005a" stroke-width="2.0" />
<line x1="585.70" y1="856.95" x2="591.05" y2="856.95" stroke="#e8005a" stroke-width="2.0" />
<line x1="594.05" y1="856.95" x2="599.25" y2="856.95" stroke="#e8005a" stroke-width="2.0" />
<line x1="602.45" y1="856.95" x2="607.85" y2="856.95" stroke="#e8005a" stroke-width="2.0" />
<line x1="610.95" y1="856.95" x2="616.25" y2="856.95" stroke="#e8005a" stroke-width="2.0" />
<line x1="619.20" y1="856.95" x2="624.35" y2="856.95" stroke="#e8005a" stroke-width="2.0" />
<line x1="627.15" y1="856.95" x2="633.05" y2="856.95" stroke="#e8005a" stroke-width="2.0" />
<line x1="635.05" y1="856.95" x2="641.15" y2="856.95" stroke="#e8005a" stroke-width="2.0" />
<line x1="643.85" y1="856.95" x2="649.35" y2="856.95" stroke="#e8005a" stroke-width="2.0" />
<line x1="198.80" y1="855.15" x2="198.80" y2="902.40" stroke="#ff2a2a" stroke-width="1.1" />
<line x1="202.40" y1="855.15" x2="202.40" y2="902.40" stroke="#ff2a2a" stroke-width="1.1" />
<line x1="206.50" y1="855.15" x2="206.50" y2="902.40" stroke="#ff2a2a" stroke-width="1.1" />
<line x1="210.50" y1="855.15" x2="210.50" y2="902.40" stroke="#ff2a2a" stroke-width="1.1" />
<line x1="214.40" y1="855.15" x2="214.40" y2="902.40" stroke="#ff2a2a" stroke-width="1.1" />
<line x1="218.50" y1="855.15" x2="218.50" y2="902.40" stroke="#ff2a2a" stroke-width="1.1" />
<line x1="222.40" y1="855.15" x2="222.40" y2="902.40" stroke="#ff2a2a" stroke-width="1.1" />
<line x1="227.40" y1="855.15" x2="227.40" y2="902.40" stroke="#ff2a2a" stroke-width="1.1" />
<line x1="230.40" y1="855.15" x2="230.40" y2="902.40" stroke="#ff2a2a" stroke-width="1.1" />
<line x1="234.90" y1="855.15" x2="234.90" y2="902.40" stroke="#ff2a2a" stroke-width="1.1" />
<line x1="239.80" y1="855.15" x2="239.80" y2="902.40" stroke="#ff2a2a" stroke-width="1.1" />
<line x1="243.30" y1="855.15" x2="243.30" y2="902.40" stroke="#ff2a2a" stroke-width="1.1" />
<line x1="247.50" y1="855.15" x2="247.50" y2="902.40" stroke="#ff2a2a" stroke-width="1.1" />
<line x1="252.40" y1="855.15" x2="252.40" y2="902.40" stroke="#ff2a2a" stroke-width="1.1" />
<line x1="256.60" y1="855.15" x2="256.60" y2="902.40" stroke="#ff2a2a" stroke-width="1.1" />
<line x1="261.50" y1="855.15" x2="261.50" y2="902.40" stroke="#ff2a2a" stroke-width="1.1" />
<line x1="264.60" y1="855.15" x2="264.60" y2="902.40" stroke="#ff2a2a" stroke-width="1.1" />
<line x1="268.70" y1="855.15" x2="268.70" y2="902.40" stroke="#ff2a2a" stroke-width="1.1" />
<line x1="272.85" y1="855.15" x2="272.85" y2="902.40" stroke="#ff2a2a" stroke-width="1.1" />
<line x1="277.00" y1="855.15" x2="277.00" y2="902.40" stroke="#ff2a2a" stroke-width="1.1" />
<line x1="281.40" y1="855.15" x2="281.40" y2="902.40" stroke="#ff2a2a" stroke-width="1.1" />
<line x1="285.80" y1="855.15" x2="285.80" y2="902.40" stroke="#ff2a2a" stroke-width="1.1" />
<line x1="290.45" y1="855.15" x2="290.45" y2="902.40" stroke="#ff2a2a" stroke-width="1.1" />
<line x1="295.10" y1="855.15" x2="295.10" y2="902.40" stroke="#ff2a2a" stroke-width="1.1" />
<line x1="299.10" y1="855.15" x2="299.10" y2="902.40" stroke="#ff2a2a" stroke-width="1.1" />
<line x1="303.10" y1="855.15" x2="303.10" y2="902.40" stroke="#ff2a2a" stroke-width="1.1" />
<line x1="307.40" y1="855.15" x2="307.40" y2="902.40" stroke="#ff2a2a" stroke-width="1.1" />
<line x1="311.70" y1="855.15" x2="311.70" y2="902.40" stroke="#ff2a2a" stroke-width="1.1" />
<line x1="316.25" y1="855.15" x2="316.25" y2="902.40" stroke="#ff2a2a" stroke-width="1.1" />
<line x1="320.80" y1="855.15" x2="320.80" y2="902.40" stroke="#ff2a2a" stroke-width="1.1" />
<line x1="325.50" y1="855.15" x2="325.50" y2="902.40" stroke="#ff2a2a" stroke-width="1.1" />
<line x1="330.20" y1="855.15" x2="330.20" y2="902.40" stroke="#ff2a2a" stroke-width="1.1" />
<line x1="334.85" y1="855.15" x2="334.85" y2="902.40" stroke="#ff2a2a" stroke-width="1.1" />
<line x1="339.50" y1="855.15" x2="339.50" y2="902.40" stroke="#ff2a2a" stroke-width="1.1" />
<line x1="343.85" y1="855.15" x2="343.85" y2="902.40" stroke="#ff2a2a" stroke-width="1.1" />
<line x1="348.20" y1="855.15" x2="348.20" y2="902.40" stroke="#ff2a2a" stroke-width="1.1" />
<line x1="351.95" y1="855.15" x2="351.95" y2="902.40" stroke="#ff2a2a" stroke-width="1.1" />
<line x1="355.70" y1="855.15" x2="355.70" y2="902.40" stroke="#ff2a2a" stroke-width="1.1" />
<line x1="360.40" y1="855.15" x2="360.40" y2="902.40" stroke="#ff2a2a" stroke-width="1.1" />
<line x1="365.10" y1="855.15" x2="365.10" y2="902.40" stroke="#ff2a2a" stroke-width="1.1" />
<line x1="369.60" y1="855.15" x2="369.60" y2="902.40" stroke="#ff2a2a" stroke-width="1.1" />
<line x1="374.10" y1="855.15" x2="374.10" y2="902.40" stroke="#ff2a2a" stroke-width="1.1" />
<line x1="378.60" y1="855.15" x2="378.60" y2="902.40" stroke="#ff2a2a" stroke-width="1.1" />
<line x1="383.10" y1="855.15" x2="383.10" y2="902.40" stroke="#ff2a2a" stroke-width="1.1" />
<line x1="386.90" y1="855.15" x2="386.90" y2="902.40" stroke="#ff2a2a" stroke-width="1.1" />
<line x1="390.70" y1="855.15" x2="390.70" y2="902.40" stroke="#ff2a2a" stroke-width="1.1" />
<line x1="395.40" y1="855.15" x2="395.40" y2="902.40" stroke="#ff2a2a" stroke-width="1.1" />
<line x1="400.10" y1="855.15" x2="400.10" y2="902.40" stroke="#ff2a2a" stroke-width="1.1" />
<line x1="403.95" y1="855.15" x2="403.95" y2="902.40" stroke="#ff2a2a" stroke-width="1.1" />
<line x1="407.80" y1="855.15" x2="407.80" y2="902.40" stroke="#ff2a2a" stroke-width="1.1" />
<line x1="412.20" y1="855.15" x2="412.20" y2="902.40" stroke="#ff2a2a" stroke-width="1.1" />
<line x1="416.60" y1="855.15" x2="416.60" y2="902.40" stroke="#ff2a2a" stroke-width="1.1" />
<line x1="421.05" y1="855.15" x2="421.05" y2="902.40" stroke="#ff2a2a" stroke-width="1.1" />
<line x1="425.50" y1="855.15" x2="425.50" y2="902.40" stroke="#ff2a2a" stroke-width="1.1" />
<line x1="429.85" y1="855.15" x2="429.85" y2="902.40" stroke="#ff2a2a" stroke-width="1.1" />
<line x1="434.20" y1="855.15" x2="434.20" y2="902.40" stroke="#ff2a2a" stroke-width="1.1" />
<line x1="438.50" y1="855.15" x2="438.50" y2="902.40" stroke="#ff2a2a" stroke-width="1.1" />
<line x1="442.80" y1="855.15" x2="442.80" y2="902.40" stroke="#ff2a2a" stroke-width="1.1" />
<line x1="447.20" y1="855.15" x2="447.20" y2="902.40" stroke="#ff2a2a" stroke-width="1.1" />
<line x1="451.80" y1="855.15" x2="451.80" y2="902.40" stroke="#ff2a2a" stroke-width="1.1" />
<line x1="455.60" y1="855.15" x2="455.60" y2="902.40" stroke="#ff2a2a" stroke-width="1.1" />
<line x1="459.60" y1="855.15" x2="459.60" y2="902.40" stroke="#ff2a2a" stroke-width="1.1" />
<line x1="460.70" y1="855.15" x2="460.70" y2="902.40" stroke="#ff2a2a" stroke-width="1.1" />
<line x1="465.50" y1="855.15" x2="465.50" y2="902.40" stroke="#ff2a2a" stroke-width="1.1" />
<line x1="468.40" y1="855.15" x2="468.40" y2="902.40" stroke="#ff2a2a" stroke-width="1.1" />
<line x1="474.00" y1="855.15" x2="474.00" y2="902.40" stroke="#ff2a2a" stroke-width="1.1" />
<line x1="477.60" y1="855.15" x2="477.60" y2="902.40" stroke="#ff2a2a" stroke-width="1.1" />
<line x1="482.60" y1="855.15" x2="482.60" y2="902.40" stroke="#ff2a2a" stroke-width="1.1" />
<line x1="486.60" y1="855.15" x2="486.60" y2="902.40" stroke="#ff2a2a" stroke-width="1.1" />
<line x1="490.40" y1="855.15" x2="490.40" y2="902.40" stroke="#ff2a2a" stroke-width="1.1" />
<line x1="494.50" y1="855.15" x2="494.50" y2="902.40" stroke="#ff2a2a" stroke-width="1.1" />
<line x1="498.30" y1="855.15" x2="498.30" y2="902.40" stroke="#ff2a2a" stroke-width="1.1" />
<line x1="502.70" y1="855.15" x2="502.70" y2="902.40" stroke="#ff2a2a" stroke-width="1.1" />
<line x1="507.10" y1="855.15" x2="507.10" y2="902.40" stroke="#ff2a2a" stroke-width="1.1" />
<line x1="511.15" y1="855.15" x2="511.15" y2="902.40" stroke="#ff2a2a" stroke-width="1.1" />
<line x1="515.20" y1="855.15" x2="515.20" y2="902.40" stroke="#ff2a2a" stroke-width="1.1" />
<line x1="519.65" y1="855.15" x2="519.65" y2="902.40" stroke="#ff2a2a" stroke-width="1.1" />
<line x1="524.10" y1="855.15" x2="524.10" y2="902.40" stroke="#ff2a2a" stroke-width="1.1" />
<line x1="528.10" y1="855.15" x2="528.10" y2="902.40" stroke="#ff2a2a" stroke-width="1.1" />
<line x1="532.10" y1="855.15" x2="532.10" y2="902.40" stroke="#ff2a2a" stroke-width="1.1" />
<line x1="536.15" y1="855.15" x2="536.15" y2="902.40" stroke="#ff2a2a" stroke-width="1.1" />
<line x1="540.20" y1="855.15" x2="540.20" y2="902.40" stroke="#ff2a2a" stroke-width="1.1" />
<line x1="544.60" y1="855.15" x2="544.60" y2="902.40" stroke="#ff2a2a" stroke-width="1.1" />
<line x1="549.00" y1="855.15" x2="549.00" y2="902.40" stroke="#ff2a2a" stroke-width="1.1" />
<line x1="553.05" y1="855.15" x2="553.05" y2="902.40" stroke="#ff2a2a" stroke-width="1.1" />
<line x1="557.10" y1="855.15" x2="557.10" y2="902.40" stroke="#ff2a2a" stroke-width="1.1" />
<line x1="561.30" y1="855.15" x2="561.30" y2="902.40" stroke="#ff2a2a" stroke-width="1.1" />
<line x1="565.50" y1="855.15" x2="565.50" y2="902.40" stroke="#ff2a2a" stroke-width="1.1" />
<line x1="569.55" y1="855.15" x2="569.55" y2="902.40" stroke="#ff2a2a" stroke-width="1.1" />
<line x1="573.60" y1="855.15" x2="573.60" y2="902.40" stroke="#ff2a2a" stroke-width="1.1" />
<line x1="577.80" y1="855.15" x2="577.80" y2="902.40" stroke="#ff2a2a" stroke-width="1.1" />
<line x1="582.00" y1="855.15" x2="582.00" y2="902.40" stroke="#ff2a2a" stroke-width="1.1" />
<line x1="586.25" y1="855.15" x2="586.25" y2="902.40" stroke="#ff2a2a" stroke-width="1.1" />
<line x1="590.50" y1="855.15" x2="590.50" y2="902.40" stroke="#ff2a2a" stroke-width="1.1" />
<line x1="594.60" y1="855.15" x2="594.60" y2="902.40" stroke="#ff2a2a" stroke-width="1.1" />
<line x1="598.70" y1="855.15" x2="598.70" y2="902.40" stroke="#ff2a2a" stroke-width="1.1" />
<line x1="603.00" y1="855.15" x2="603.00" y2="902.40" stroke="#ff2a2a" stroke-width="1.1" />
<line x1="607.30" y1="855.15" x2="607.30" y2="902.40" stroke="#ff2a2a" stroke-width="1.1" />
<line x1="611.50" y1="855.15" x2="611.50" y2="902.40" stroke="#ff2a2a" stroke-width="1.1" />
<line x1="615.70" y1="855.15" x2="615.70" y2="902.40" stroke="#ff2a2a" stroke-width="1.1" />
<line x1="619.75" y1="855.15" x2="619.75" y2="902.40" stroke="#ff2a2a" stroke-width="1.1" />
<line x1="623.80" y1="855.15" x2="623.80" y2="902.40" stroke="#ff2a2a" stroke-width="1.1" />
<line x1="627.70" y1="855.15" x2="627.70" y2="902.40" stroke="#ff2a2a" stroke-width="1.1" />
<line x1="632.50" y1="855.15" x2="632.50" y2="902.40" stroke="#ff2a2a" stroke-width="1.1" />
<line x1="635.60" y1="855.15" x2="635.60" y2="902.40" stroke="#ff2a2a" stroke-width="1.1" />
<line x1="640.60" y1="855.15" x2="640.60" y2="902.40" stroke="#ff2a2a" stroke-width="1.1" />
<line x1="644.40" y1="855.15" x2="644.40" y2="902.40" stroke="#ff2a2a" stroke-width="1.1" />
<line x1="648.80" y1="855.15" x2="648.80" y2="902.40" stroke="#ff2a2a" stroke-width="1.1" />
<line x1="53.00" y1="995.50" x2="663.50" y2="995.50" stroke="#000" stroke-width="1.7" />
<rect x="64.20" y="994.30" width="1.60" height="2.40" fill="#fff"/>
<rect x="122.72" y="994.30" width="1.60" height="2.40" fill="#fff"/>
<rect x="181.24" y="994.30" width="1.60" height="2.40" fill="#fff"/>
<rect x="239.76" y="994.30" width="1.60" height="2.40" fill="#fff"/>
<rect x="298.28" y="994.30" width="1.60" height="2.40" fill="#fff"/>
<rect x="356.80" y="994.30" width="1.60" height="2.40" fill="#fff"/>
<rect x="415.32" y="994.30" width="1.60" height="2.40" fill="#fff"/>
<rect x="473.84" y="994.30" width="1.60" height="2.40" fill="#fff"/>
<rect x="532.36" y="994.30" width="1.60" height="2.40" fill="#fff"/>
<rect x="590.88" y="994.30" width="1.60" height="2.40" fill="#fff"/>
<rect x="649.40" y="994.30" width="1.60" height="2.40" fill="#fff"/>
<line x1="55.90" y1="1043.00" x2="663.50" y2="1043.00" stroke="#000" stroke-width="1.8" stroke-dasharray="3.5 3.35"/>
<line x1="77.60" y1="1043.00" x2="77.60" y2="1045.00" stroke="#000" stroke-width="0.9" />
<line x1="89.31" y1="1043.00" x2="89.31" y2="1045.00" stroke="#000" stroke-width="0.9" />
<line x1="101.01" y1="1043.00" x2="101.01" y2="1045.00" stroke="#000" stroke-width="0.9" />
<line x1="112.72" y1="1043.00" x2="112.72" y2="1045.00" stroke="#000" stroke-width="0.9" />
<line x1="136.12" y1="1043.00" x2="136.12" y2="1045.00" stroke="#000" stroke-width="0.9" />
<line x1="147.83" y1="1043.00" x2="147.83" y2="1045.00" stroke="#000" stroke-width="0.9" />
<line x1="159.53" y1="1043.00" x2="159.53" y2="1045.00" stroke="#000" stroke-width="0.9" />
<line x1="171.24" y1="1043.00" x2="171.24" y2="1045.00" stroke="#000" stroke-width="0.9" />
<line x1="194.64" y1="1043.00" x2="194.64" y2="1045.00" stroke="#000" stroke-width="0.9" />
<line x1="206.35" y1="1043.00" x2="206.35" y2="1045.00" stroke="#000" stroke-width="0.9" />
<line x1="218.05" y1="1043.00" x2="218.05" y2="1045.00" stroke="#000" stroke-width="0.9" />
<line x1="229.76" y1="1043.00" x2="229.76" y2="1045.00" stroke="#000" stroke-width="0.9" />
<line x1="253.16" y1="1043.00" x2="253.16" y2="1045.00" stroke="#000" stroke-width="0.9" />
<line x1="264.87" y1="1043.00" x2="264.87" y2="1045.00" stroke="#000" stroke-width="0.9" />
<line x1="276.57" y1="1043.00" x2="276.57" y2="1045.00" stroke="#000" stroke-width="0.9" />
<line x1="288.28" y1="1043.00" x2="288.28" y2="1045.00" stroke="#000" stroke-width="0.9" />
<line x1="311.68" y1="1043.00" x2="311.68" y2="1045.00" stroke="#000" stroke-width="0.9" />
<line x1="323.39" y1="1043.00" x2="323.39" y2="1045.00" stroke="#000" stroke-width="0.9" />
<line x1="335.09" y1="1043.00" x2="335.09" y2="1045.00" stroke="#000" stroke-width="0.9" />
<line x1="346.80" y1="1043.00" x2="346.80" y2="1045.00" stroke="#000" stroke-width="0.9" />
<line x1="370.20" y1="1043.00" x2="370.20" y2="1045.00" stroke="#000" stroke-width="0.9" />
<line x1="381.91" y1="1043.00" x2="381.91" y2="1045.00" stroke="#000" stroke-width="0.9" />
<line x1="393.61" y1="1043.00" x2="393.61" y2="1045.00" stroke="#000" stroke-width="0.9" />
<line x1="405.32" y1="1043.00" x2="405.32" y2="1045.00" stroke="#000" stroke-width="0.9" />
<line x1="428.72" y1="1043.00" x2="428.72" y2="1045.00" stroke="#000" stroke-width="0.9" />
<line x1="440.43" y1="1043.00" x2="440.43" y2="1045.00" stroke="#000" stroke-width="0.9" />
<line x1="452.13" y1="1043.00" x2="452.13" y2="1045.00" stroke="#000" stroke-width="0.9" />
<line x1="463.84" y1="1043.00" x2="463.84" y2="1045.00" stroke="#000" stroke-width="0.9" />
<line x1="487.24" y1="1043.00" x2="487.24" y2="1045.00" stroke="#000" stroke-width="0.9" />
<line x1="498.95" y1="1043.00" x2="498.95" y2="1045.00" stroke="#000" stroke-width="0.9" />
<line x1="510.65" y1="1043.00" x2="510.65" y2="1045.00" stroke="#000" stroke-width="0.9" />
<line x1="522.36" y1="1043.00" x2="522.36" y2="1045.00" stroke="#000" stroke-width="0.9" />
<line x1="545.76" y1="1043.00" x2="545.76" y2="1045.00" stroke="#000" stroke-width="0.9" />
<line x1="557.47" y1="1043.00" x2="557.47" y2="1045.00" stroke="#000" stroke-width="0.9" />
<line x1="569.17" y1="1043.00" x2="569.17" y2="1045.00" stroke="#000" stroke-width="0.9" />
<line x1="580.88" y1="1043.00" x2="580.88" y2="1045.00" stroke="#000" stroke-width="0.9" />
<line x1="604.28" y1="1043.00" x2="604.28" y2="1045.00" stroke="#000" stroke-width="0.9" />
<line x1="615.99" y1="1043.00" x2="615.99" y2="1045.00" stroke="#000" stroke-width="0.9" />
<line x1="627.69" y1="1043.00" x2="627.69" y2="1045.00" stroke="#000" stroke-width="0.9" />
<line x1="639.40" y1="1043.00" x2="639.40" y2="1045.00" stroke="#000" stroke-width="0.9" />
<line x1="662.80" y1="994.70" x2="662.80" y2="1045.60" stroke="#000" stroke-width="1.5" />
<rect x="48.30" y="996.80" width="5.50" height="47.20" fill="#000"/>
<line x1="45.10" y1="997.70" x2="49.00" y2="997.70" stroke="#000" stroke-width="2.0" />
<line x1="45.10" y1="1006.50" x2="49.00" y2="1006.50" stroke="#000" stroke-width="2.0" />
<line x1="45.10" y1="1015.30" x2="49.00" y2="1015.30" stroke="#000" stroke-width="2.0" />
<line x1="45.10" y1="1024.10" x2="49.00" y2="1024.10" stroke="#000" stroke-width="2.0" />
<line x1="45.10" y1="1034.20" x2="49.00" y2="1034.20" stroke="#000" stroke-width="2.0" />
<line x1="45.10" y1="1043.00" x2="49.00" y2="1043.00" stroke="#000" stroke-width="2.0" />
<rect x="49.60" y="1028.45" width="4.30" height="1.10" fill="#fff"/>
<text class="a" transform="translate(39.50,1018.80) scale(0.59,1)" font-size="16.8" text-anchor="end">1.5</text>
<text class="a" transform="translate(39.50,1047.30) scale(0.59,1)" font-size="16.8" text-anchor="end">0.0</text>
<text class="s" transform="translate(64.80,1066.80) scale(0.55,1)" font-size="22.0" text-anchor="middle">0</text>
<text class="s" transform="translate(125.90,1066.80) scale(0.55,1)" font-size="22.0" text-anchor="middle">5</text>
<text class="s" transform="translate(187.00,1066.80) scale(0.55,1)" font-size="22.0" text-anchor="middle">10</text>
<text class="s" transform="translate(244.80,1066.80) scale(0.55,1)" font-size="22.0" text-anchor="middle">15</text>
<text class="s" transform="translate(305.20,1066.80) scale(0.55,1)" font-size="22.0" text-anchor="middle">20</text>
<text class="s" transform="translate(363.30,1066.80) scale(0.55,1)" font-size="22.0" text-anchor="middle">25</text>
<text class="s" transform="translate(423.80,1066.80) scale(0.55,1)" font-size="22.0" text-anchor="middle">30</text>
<text class="s" transform="translate(481.90,1066.80) scale(0.55,1)" font-size="22.0" text-anchor="middle">35</text>
<text class="s" transform="translate(542.30,1066.80) scale(0.55,1)" font-size="22.0" text-anchor="middle">40</text>
<text class="s" transform="translate(600.00,1066.80) scale(0.55,1)" font-size="22.0" text-anchor="middle">45</text>
<text class="s" transform="translate(657.70,1066.80) scale(0.55,1)" font-size="22.0" text-anchor="middle">50</text>
<text class="s" transform="translate(556.70,1090.30) scale(0.64,1)" font-size="22.0" text-anchor="start">Time(µs)</text>
<text class="s" transform="translate(671.10,1012.20) scale(0.56,1)" font-size="23.2" text-anchor="start">d0</text>
<text class="m" transform="translate(15.80,1070.10) rotate(-90) scale(1.146,1)" font-size="14.4">voltage(V)</text>
<rect x="194.90" y="994.30" width="456.50" height="48.00" fill="#00fc00"/>
<line x1="195.50" y1="995.60" x2="651.40" y2="995.60" stroke="#000" stroke-width="1.7" stroke-dasharray="1.9 2.4"/>
<line x1="651.40" y1="995.50" x2="662.80" y2="995.50" stroke="#000" stroke-width="1.7" />
<path d="M239.56 994.20 L241.56 994.20 L240.56 996.50 Z" fill="#fff"/>
<path d="M298.08 994.20 L300.08 994.20 L299.08 996.50 Z" fill="#fff"/>
<path d="M356.60 994.20 L358.60 994.20 L357.60 996.50 Z" fill="#fff"/>
<path d="M415.12 994.20 L417.12 994.20 L416.12 996.50 Z" fill="#fff"/>
<path d="M473.64 994.20 L475.64 994.20 L474.64 996.50 Z" fill="#fff"/>
<path d="M532.16 994.20 L534.16 994.20 L533.16 996.50 Z" fill="#fff"/>
<path d="M590.68 994.20 L592.68 994.20 L591.68 996.50 Z" fill="#fff"/>
<path d="M649.20 994.20 L651.20 994.20 L650.20 996.50 Z" fill="#fff"/>
<line x1="237.40" y1="998.20" x2="237.40" y2="1042.10" stroke="#e4ffe4" stroke-width="0.95" />
<line x1="385.40" y1="998.20" x2="385.40" y2="1042.10" stroke="#e4ffe4" stroke-width="0.95" />
<line x1="458.70" y1="998.20" x2="458.70" y2="1042.10" stroke="#e4ffe4" stroke-width="0.95" />
<line x1="472.20" y1="998.20" x2="472.20" y2="1042.10" stroke="#e4ffe4" stroke-width="0.95" />
<line x1="484.60" y1="998.20" x2="484.60" y2="1042.10" stroke="#e4ffe4" stroke-width="0.95" />
</svg>
</body></html>
